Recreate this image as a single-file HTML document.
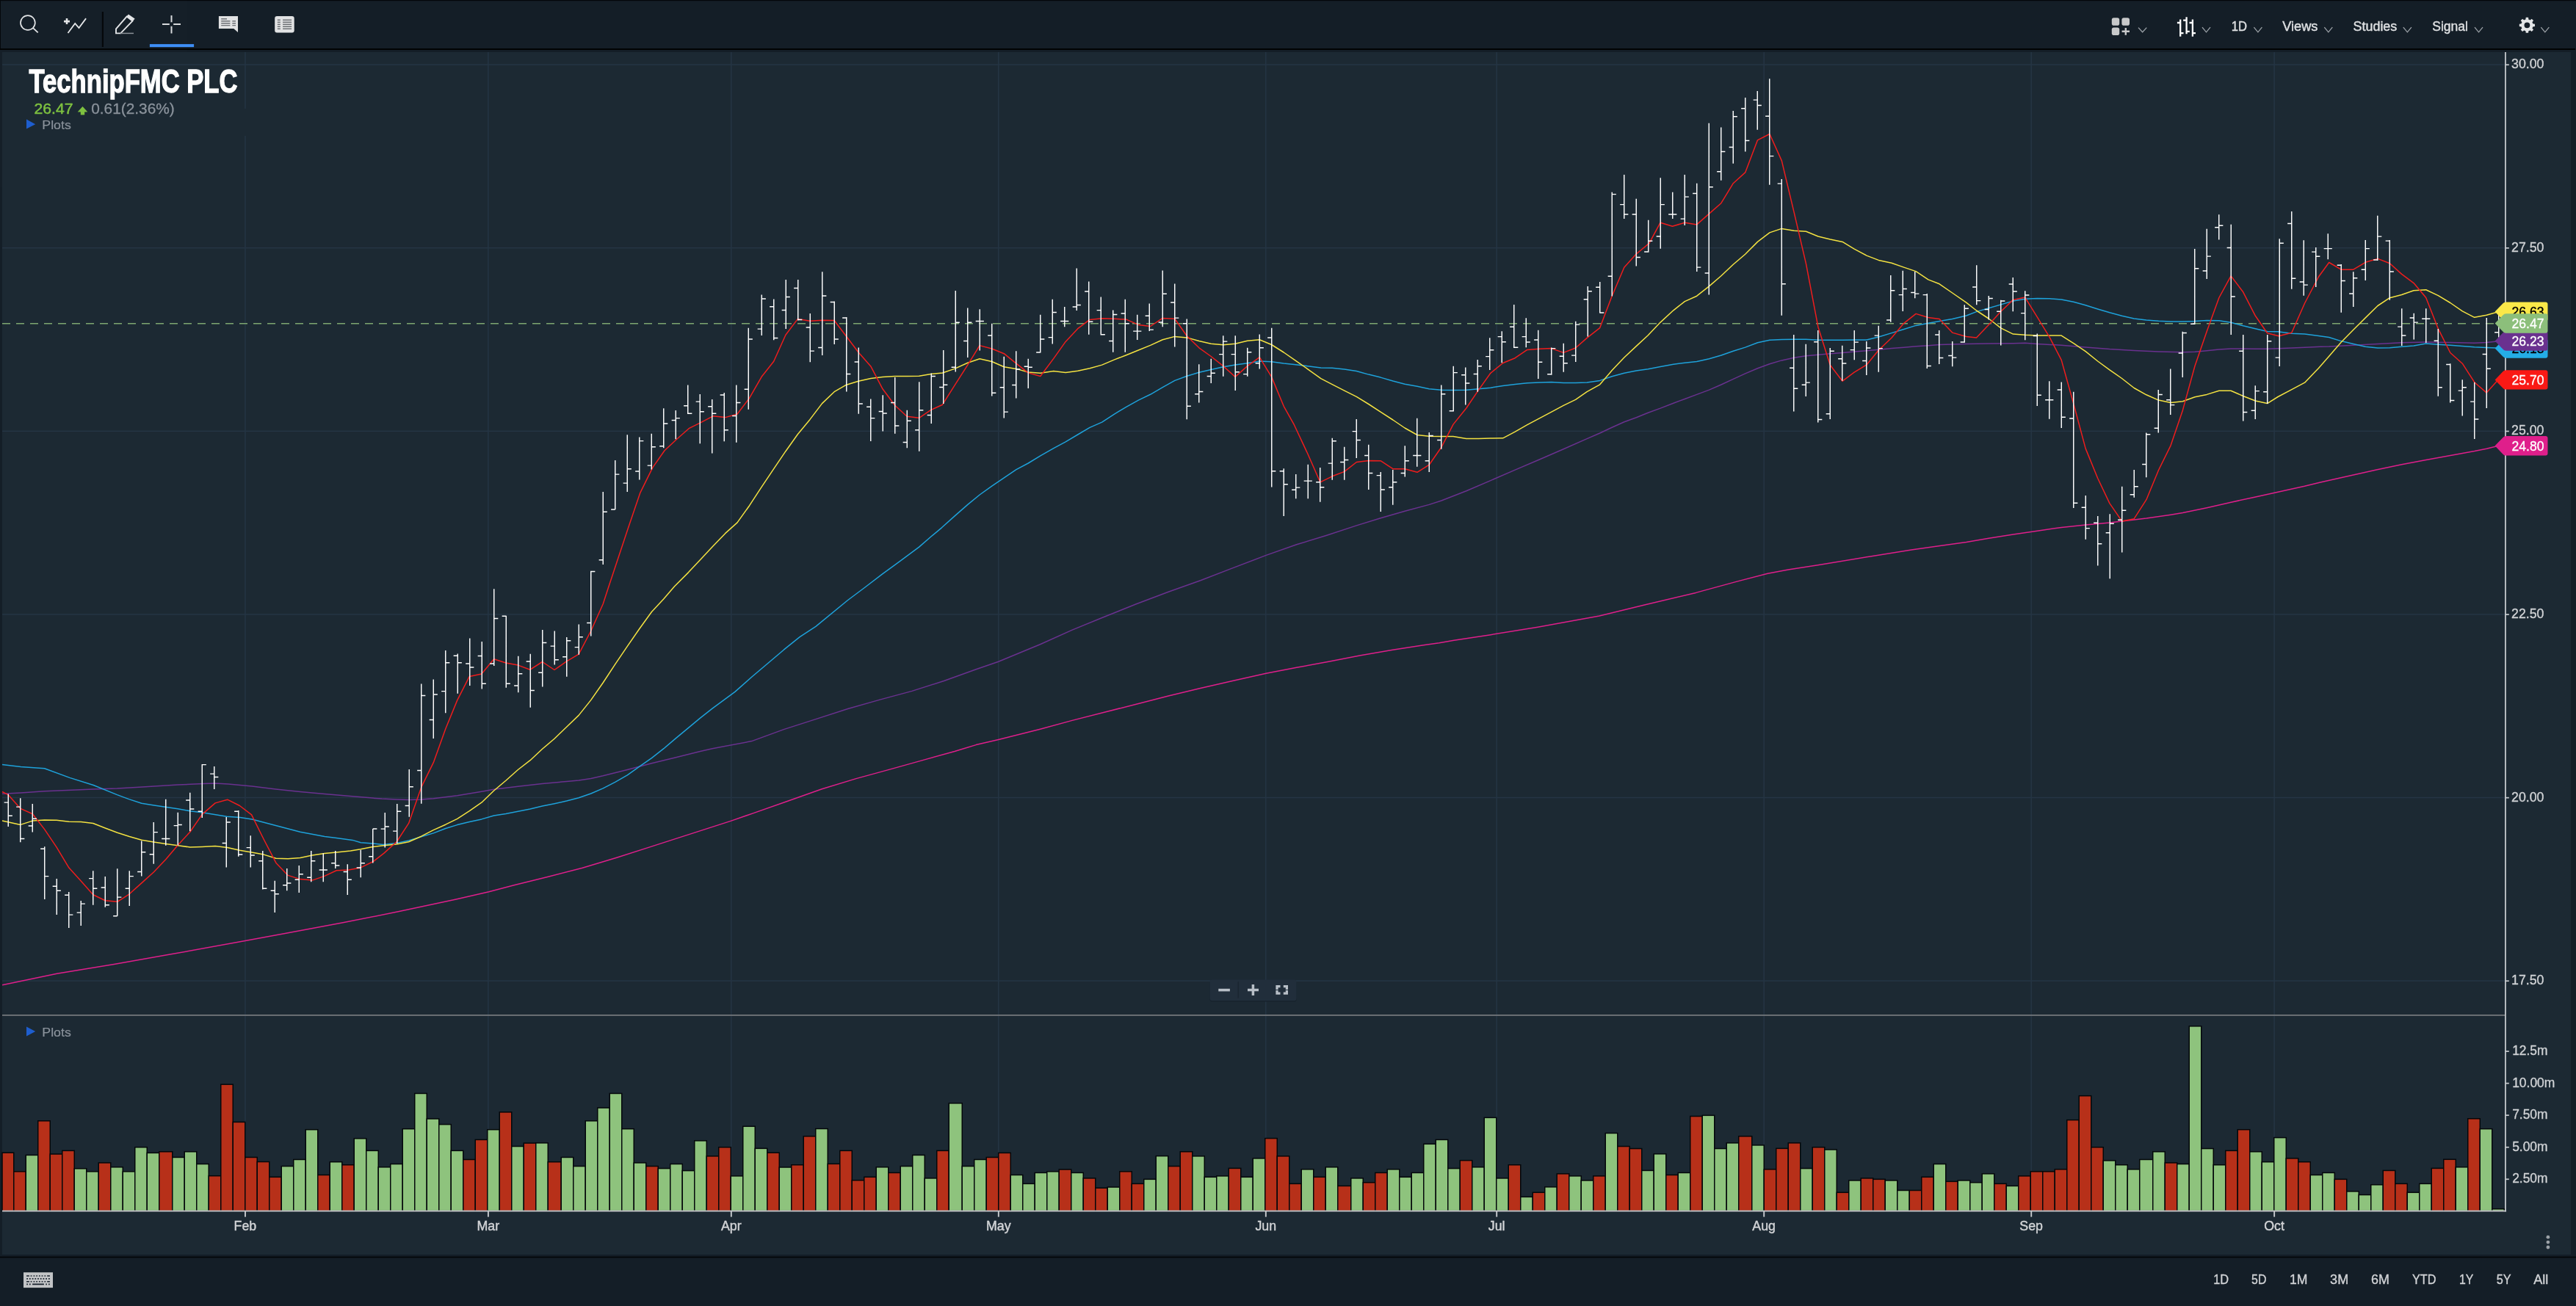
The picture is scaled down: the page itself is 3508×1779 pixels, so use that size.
<!DOCTYPE html>
<html lang="en"><head><meta charset="utf-8"><title>TechnipFMC PLC</title>
<style>
html,body{margin:0;padding:0;background:#151f28;}
body{width:3508px;height:1779px;overflow:hidden;font-family:"Liberation Sans",sans-serif;}
svg{display:block;position:absolute;left:0;top:0;will-change:transform;opacity:0.9999;}
text{white-space:pre;}
</style></head>
<body>
<svg width="3508" height="1779" viewBox="0 0 3508 1779">
<rect x="0" y="0" width="3508" height="1779" fill="#151f28"/>
<rect x="3" y="70.7" width="3498" height="1638.5" fill="#1d2a34"/>
<rect x="3" y="87.35" width="3409" height="1.5" fill="#263645"/>
<rect x="3" y="336.95" width="3409" height="1.5" fill="#263645"/>
<rect x="3" y="586.55" width="3409" height="1.5" fill="#263645"/>
<rect x="3" y="836.15" width="3409" height="1.5" fill="#263645"/>
<rect x="3" y="1085.75" width="3409" height="1.5" fill="#263645"/>
<rect x="3" y="1335.35" width="3409" height="1.5" fill="#263645"/>
<rect x="333.17" y="71" width="1.5" height="1579" fill="#263645"/>
<rect x="664.09" y="71" width="1.5" height="1579" fill="#263645"/>
<rect x="995.01" y="71" width="1.5" height="1579" fill="#263645"/>
<rect x="1359.02" y="71" width="1.5" height="1579" fill="#263645"/>
<rect x="1723.03" y="71" width="1.5" height="1579" fill="#263645"/>
<rect x="2037.41" y="71" width="1.5" height="1579" fill="#263645"/>
<rect x="2401.42" y="71" width="1.5" height="1579" fill="#263645"/>
<rect x="2765.43" y="71" width="1.5" height="1579" fill="#263645"/>
<rect x="3096.35" y="71" width="1.5" height="1579" fill="#263645"/>
<rect x="30" y="148" width="310" height="37" fill="#1d2a34"/>
<line x1="3" y1="440.70" x2="3400" y2="440.70" stroke="#7fa872" stroke-width="1.6" stroke-dasharray="11 8"/>
<rect x="3.00" y="1570.22" width="15.75" height="79.38" fill="#b8311a" stroke="#05080b" stroke-width="1.5"/>
<rect x="18.75" y="1595.85" width="16.50" height="53.75" fill="#b8311a" stroke="#05080b" stroke-width="1.5"/>
<rect x="35.25" y="1573.45" width="16.50" height="76.15" fill="#8fc47e" stroke="#05080b" stroke-width="1.5"/>
<rect x="51.75" y="1526.82" width="16.50" height="122.78" fill="#b8311a" stroke="#05080b" stroke-width="1.5"/>
<rect x="68.25" y="1572.03" width="16.50" height="77.57" fill="#b8311a" stroke="#05080b" stroke-width="1.5"/>
<rect x="84.75" y="1567.39" width="16.50" height="82.21" fill="#b8311a" stroke="#05080b" stroke-width="1.5"/>
<rect x="101.25" y="1591.82" width="16.50" height="57.78" fill="#8fc47e" stroke="#05080b" stroke-width="1.5"/>
<rect x="117.75" y="1595.85" width="16.50" height="53.75" fill="#8fc47e" stroke="#05080b" stroke-width="1.5"/>
<rect x="134.25" y="1583.94" width="16.50" height="65.66" fill="#b8311a" stroke="#05080b" stroke-width="1.5"/>
<rect x="150.75" y="1589.80" width="16.50" height="59.80" fill="#8fc47e" stroke="#05080b" stroke-width="1.5"/>
<rect x="167.25" y="1595.85" width="16.50" height="53.75" fill="#8fc47e" stroke="#05080b" stroke-width="1.5"/>
<rect x="183.75" y="1562.75" width="16.50" height="86.85" fill="#8fc47e" stroke="#05080b" stroke-width="1.5"/>
<rect x="200.25" y="1570.42" width="16.50" height="79.18" fill="#8fc47e" stroke="#05080b" stroke-width="1.5"/>
<rect x="216.75" y="1568.80" width="18.00" height="80.80" fill="#b8311a" stroke="#05080b" stroke-width="1.5"/>
<rect x="234.75" y="1576.48" width="16.50" height="73.12" fill="#8fc47e" stroke="#05080b" stroke-width="1.5"/>
<rect x="251.25" y="1568.80" width="16.50" height="80.80" fill="#8fc47e" stroke="#05080b" stroke-width="1.5"/>
<rect x="267.75" y="1585.56" width="16.50" height="64.04" fill="#8fc47e" stroke="#05080b" stroke-width="1.5"/>
<rect x="284.25" y="1601.71" width="16.50" height="47.89" fill="#b8311a" stroke="#05080b" stroke-width="1.5"/>
<rect x="300.75" y="1477.16" width="16.50" height="172.44" fill="#b8311a" stroke="#05080b" stroke-width="1.5"/>
<rect x="317.25" y="1528.43" width="16.50" height="121.17" fill="#b8311a" stroke="#05080b" stroke-width="1.5"/>
<rect x="333.75" y="1576.48" width="16.50" height="73.12" fill="#b8311a" stroke="#05080b" stroke-width="1.5"/>
<rect x="350.25" y="1582.53" width="16.50" height="67.07" fill="#b8311a" stroke="#05080b" stroke-width="1.5"/>
<rect x="366.75" y="1603.32" width="16.50" height="46.28" fill="#b8311a" stroke="#05080b" stroke-width="1.5"/>
<rect x="383.25" y="1588.59" width="16.50" height="61.01" fill="#8fc47e" stroke="#05080b" stroke-width="1.5"/>
<rect x="399.75" y="1579.50" width="16.50" height="70.10" fill="#8fc47e" stroke="#05080b" stroke-width="1.5"/>
<rect x="416.25" y="1538.73" width="16.50" height="110.87" fill="#8fc47e" stroke="#05080b" stroke-width="1.5"/>
<rect x="432.75" y="1600.50" width="16.50" height="49.10" fill="#b8311a" stroke="#05080b" stroke-width="1.5"/>
<rect x="449.25" y="1582.73" width="16.50" height="66.87" fill="#8fc47e" stroke="#05080b" stroke-width="1.5"/>
<rect x="465.75" y="1586.77" width="16.50" height="62.83" fill="#b8311a" stroke="#05080b" stroke-width="1.5"/>
<rect x="482.25" y="1550.84" width="16.50" height="98.76" fill="#8fc47e" stroke="#05080b" stroke-width="1.5"/>
<rect x="498.75" y="1567.39" width="16.50" height="82.21" fill="#8fc47e" stroke="#05080b" stroke-width="1.5"/>
<rect x="515.25" y="1589.80" width="16.50" height="59.80" fill="#8fc47e" stroke="#05080b" stroke-width="1.5"/>
<rect x="531.75" y="1585.56" width="16.50" height="64.04" fill="#8fc47e" stroke="#05080b" stroke-width="1.5"/>
<rect x="548.25" y="1537.72" width="16.50" height="111.88" fill="#8fc47e" stroke="#05080b" stroke-width="1.5"/>
<rect x="564.75" y="1489.47" width="16.50" height="160.13" fill="#8fc47e" stroke="#05080b" stroke-width="1.5"/>
<rect x="581.25" y="1523.99" width="16.50" height="125.61" fill="#8fc47e" stroke="#05080b" stroke-width="1.5"/>
<rect x="597.75" y="1531.66" width="16.50" height="117.94" fill="#8fc47e" stroke="#05080b" stroke-width="1.5"/>
<rect x="614.25" y="1567.39" width="16.50" height="82.21" fill="#8fc47e" stroke="#05080b" stroke-width="1.5"/>
<rect x="630.75" y="1579.50" width="16.50" height="70.10" fill="#b8311a" stroke="#05080b" stroke-width="1.5"/>
<rect x="647.25" y="1552.45" width="16.50" height="97.15" fill="#b8311a" stroke="#05080b" stroke-width="1.5"/>
<rect x="663.75" y="1538.73" width="16.50" height="110.87" fill="#8fc47e" stroke="#05080b" stroke-width="1.5"/>
<rect x="680.25" y="1514.91" width="16.50" height="134.69" fill="#b8311a" stroke="#05080b" stroke-width="1.5"/>
<rect x="696.75" y="1561.54" width="16.50" height="88.06" fill="#8fc47e" stroke="#05080b" stroke-width="1.5"/>
<rect x="713.25" y="1557.10" width="16.50" height="92.50" fill="#b8311a" stroke="#05080b" stroke-width="1.5"/>
<rect x="729.75" y="1556.89" width="16.50" height="92.71" fill="#8fc47e" stroke="#05080b" stroke-width="1.5"/>
<rect x="746.25" y="1582.73" width="18.00" height="66.87" fill="#b8311a" stroke="#05080b" stroke-width="1.5"/>
<rect x="764.25" y="1576.48" width="16.50" height="73.12" fill="#8fc47e" stroke="#05080b" stroke-width="1.5"/>
<rect x="780.75" y="1588.59" width="16.50" height="61.01" fill="#8fc47e" stroke="#05080b" stroke-width="1.5"/>
<rect x="797.25" y="1526.82" width="16.50" height="122.78" fill="#8fc47e" stroke="#05080b" stroke-width="1.5"/>
<rect x="813.75" y="1509.05" width="16.50" height="140.55" fill="#8fc47e" stroke="#05080b" stroke-width="1.5"/>
<rect x="830.25" y="1489.47" width="16.50" height="160.13" fill="#8fc47e" stroke="#05080b" stroke-width="1.5"/>
<rect x="846.75" y="1537.72" width="16.50" height="111.88" fill="#8fc47e" stroke="#05080b" stroke-width="1.5"/>
<rect x="863.25" y="1583.94" width="16.50" height="65.66" fill="#8fc47e" stroke="#05080b" stroke-width="1.5"/>
<rect x="879.75" y="1588.59" width="16.50" height="61.01" fill="#b8311a" stroke="#05080b" stroke-width="1.5"/>
<rect x="896.25" y="1591.61" width="16.50" height="57.99" fill="#8fc47e" stroke="#05080b" stroke-width="1.5"/>
<rect x="912.75" y="1585.56" width="16.50" height="64.04" fill="#8fc47e" stroke="#05080b" stroke-width="1.5"/>
<rect x="929.25" y="1594.64" width="16.50" height="54.96" fill="#8fc47e" stroke="#05080b" stroke-width="1.5"/>
<rect x="945.75" y="1553.87" width="16.50" height="95.73" fill="#8fc47e" stroke="#05080b" stroke-width="1.5"/>
<rect x="962.25" y="1574.86" width="16.50" height="74.74" fill="#b8311a" stroke="#05080b" stroke-width="1.5"/>
<rect x="978.75" y="1562.75" width="16.50" height="86.85" fill="#b8311a" stroke="#05080b" stroke-width="1.5"/>
<rect x="995.25" y="1601.91" width="16.50" height="47.69" fill="#8fc47e" stroke="#05080b" stroke-width="1.5"/>
<rect x="1011.75" y="1534.29" width="16.50" height="115.31" fill="#8fc47e" stroke="#05080b" stroke-width="1.5"/>
<rect x="1028.25" y="1564.36" width="16.50" height="85.24" fill="#8fc47e" stroke="#05080b" stroke-width="1.5"/>
<rect x="1044.75" y="1570.22" width="16.50" height="79.38" fill="#b8311a" stroke="#05080b" stroke-width="1.5"/>
<rect x="1061.25" y="1590.00" width="16.50" height="59.60" fill="#8fc47e" stroke="#05080b" stroke-width="1.5"/>
<rect x="1077.75" y="1586.77" width="16.50" height="62.83" fill="#b8311a" stroke="#05080b" stroke-width="1.5"/>
<rect x="1094.25" y="1547.81" width="16.50" height="101.79" fill="#b8311a" stroke="#05080b" stroke-width="1.5"/>
<rect x="1110.75" y="1537.52" width="16.50" height="112.08" fill="#8fc47e" stroke="#05080b" stroke-width="1.5"/>
<rect x="1127.25" y="1585.36" width="16.50" height="64.24" fill="#b8311a" stroke="#05080b" stroke-width="1.5"/>
<rect x="1143.75" y="1567.39" width="16.50" height="82.21" fill="#b8311a" stroke="#05080b" stroke-width="1.5"/>
<rect x="1160.25" y="1607.76" width="16.50" height="41.84" fill="#b8311a" stroke="#05080b" stroke-width="1.5"/>
<rect x="1176.75" y="1603.32" width="16.50" height="46.28" fill="#b8311a" stroke="#05080b" stroke-width="1.5"/>
<rect x="1193.25" y="1589.80" width="16.50" height="59.80" fill="#8fc47e" stroke="#05080b" stroke-width="1.5"/>
<rect x="1209.75" y="1597.47" width="16.50" height="52.13" fill="#b8311a" stroke="#05080b" stroke-width="1.5"/>
<rect x="1226.25" y="1588.59" width="16.50" height="61.01" fill="#8fc47e" stroke="#05080b" stroke-width="1.5"/>
<rect x="1242.75" y="1573.45" width="16.50" height="76.15" fill="#8fc47e" stroke="#05080b" stroke-width="1.5"/>
<rect x="1259.25" y="1604.94" width="16.50" height="44.66" fill="#8fc47e" stroke="#05080b" stroke-width="1.5"/>
<rect x="1275.75" y="1567.39" width="16.50" height="82.21" fill="#b8311a" stroke="#05080b" stroke-width="1.5"/>
<rect x="1292.25" y="1502.80" width="18.00" height="146.80" fill="#8fc47e" stroke="#05080b" stroke-width="1.5"/>
<rect x="1310.25" y="1588.59" width="16.50" height="61.01" fill="#8fc47e" stroke="#05080b" stroke-width="1.5"/>
<rect x="1326.75" y="1579.50" width="16.50" height="70.10" fill="#8fc47e" stroke="#05080b" stroke-width="1.5"/>
<rect x="1343.25" y="1576.48" width="16.50" height="73.12" fill="#b8311a" stroke="#05080b" stroke-width="1.5"/>
<rect x="1359.75" y="1570.42" width="16.50" height="79.18" fill="#b8311a" stroke="#05080b" stroke-width="1.5"/>
<rect x="1376.25" y="1600.50" width="16.50" height="49.10" fill="#8fc47e" stroke="#05080b" stroke-width="1.5"/>
<rect x="1392.75" y="1612.41" width="16.50" height="37.19" fill="#8fc47e" stroke="#05080b" stroke-width="1.5"/>
<rect x="1409.25" y="1597.47" width="16.50" height="52.13" fill="#8fc47e" stroke="#05080b" stroke-width="1.5"/>
<rect x="1425.75" y="1595.85" width="16.50" height="53.75" fill="#8fc47e" stroke="#05080b" stroke-width="1.5"/>
<rect x="1442.25" y="1593.03" width="16.50" height="56.57" fill="#b8311a" stroke="#05080b" stroke-width="1.5"/>
<rect x="1458.75" y="1597.47" width="16.50" height="52.13" fill="#8fc47e" stroke="#05080b" stroke-width="1.5"/>
<rect x="1475.25" y="1604.94" width="16.50" height="44.66" fill="#b8311a" stroke="#05080b" stroke-width="1.5"/>
<rect x="1491.75" y="1618.26" width="16.50" height="31.34" fill="#b8311a" stroke="#05080b" stroke-width="1.5"/>
<rect x="1508.25" y="1617.05" width="16.50" height="32.55" fill="#8fc47e" stroke="#05080b" stroke-width="1.5"/>
<rect x="1524.75" y="1595.85" width="16.50" height="53.75" fill="#b8311a" stroke="#05080b" stroke-width="1.5"/>
<rect x="1541.25" y="1612.41" width="16.50" height="37.19" fill="#b8311a" stroke="#05080b" stroke-width="1.5"/>
<rect x="1557.75" y="1606.35" width="16.50" height="43.25" fill="#8fc47e" stroke="#05080b" stroke-width="1.5"/>
<rect x="1574.25" y="1574.66" width="16.50" height="74.94" fill="#8fc47e" stroke="#05080b" stroke-width="1.5"/>
<rect x="1590.75" y="1588.59" width="16.50" height="61.01" fill="#b8311a" stroke="#05080b" stroke-width="1.5"/>
<rect x="1607.25" y="1568.80" width="16.50" height="80.80" fill="#b8311a" stroke="#05080b" stroke-width="1.5"/>
<rect x="1623.75" y="1574.86" width="16.50" height="74.74" fill="#8fc47e" stroke="#05080b" stroke-width="1.5"/>
<rect x="1640.25" y="1603.32" width="16.50" height="46.28" fill="#8fc47e" stroke="#05080b" stroke-width="1.5"/>
<rect x="1656.75" y="1601.91" width="16.50" height="47.69" fill="#8fc47e" stroke="#05080b" stroke-width="1.5"/>
<rect x="1673.25" y="1591.41" width="16.50" height="58.19" fill="#b8311a" stroke="#05080b" stroke-width="1.5"/>
<rect x="1689.75" y="1603.32" width="16.50" height="46.28" fill="#8fc47e" stroke="#05080b" stroke-width="1.5"/>
<rect x="1706.25" y="1577.89" width="16.50" height="71.71" fill="#8fc47e" stroke="#05080b" stroke-width="1.5"/>
<rect x="1722.75" y="1550.64" width="16.50" height="98.96" fill="#b8311a" stroke="#05080b" stroke-width="1.5"/>
<rect x="1739.25" y="1574.86" width="16.50" height="74.74" fill="#b8311a" stroke="#05080b" stroke-width="1.5"/>
<rect x="1755.75" y="1612.41" width="16.50" height="37.19" fill="#b8311a" stroke="#05080b" stroke-width="1.5"/>
<rect x="1772.25" y="1592.83" width="16.50" height="56.77" fill="#8fc47e" stroke="#05080b" stroke-width="1.5"/>
<rect x="1788.75" y="1603.32" width="16.50" height="46.28" fill="#b8311a" stroke="#05080b" stroke-width="1.5"/>
<rect x="1805.25" y="1589.80" width="16.50" height="59.80" fill="#8fc47e" stroke="#05080b" stroke-width="1.5"/>
<rect x="1821.75" y="1615.43" width="18.00" height="34.17" fill="#b8311a" stroke="#05080b" stroke-width="1.5"/>
<rect x="1839.75" y="1604.94" width="16.50" height="44.66" fill="#8fc47e" stroke="#05080b" stroke-width="1.5"/>
<rect x="1856.25" y="1610.79" width="16.50" height="38.81" fill="#b8311a" stroke="#05080b" stroke-width="1.5"/>
<rect x="1872.75" y="1597.47" width="16.50" height="52.13" fill="#b8311a" stroke="#05080b" stroke-width="1.5"/>
<rect x="1889.25" y="1592.83" width="16.50" height="56.77" fill="#8fc47e" stroke="#05080b" stroke-width="1.5"/>
<rect x="1905.75" y="1603.32" width="16.50" height="46.28" fill="#8fc47e" stroke="#05080b" stroke-width="1.5"/>
<rect x="1922.25" y="1597.47" width="16.50" height="52.13" fill="#8fc47e" stroke="#05080b" stroke-width="1.5"/>
<rect x="1938.75" y="1558.31" width="16.50" height="91.29" fill="#8fc47e" stroke="#05080b" stroke-width="1.5"/>
<rect x="1955.25" y="1552.45" width="16.50" height="97.15" fill="#8fc47e" stroke="#05080b" stroke-width="1.5"/>
<rect x="1971.75" y="1591.61" width="16.50" height="57.99" fill="#8fc47e" stroke="#05080b" stroke-width="1.5"/>
<rect x="1988.25" y="1580.71" width="16.50" height="68.89" fill="#b8311a" stroke="#05080b" stroke-width="1.5"/>
<rect x="2004.75" y="1589.80" width="16.50" height="59.80" fill="#8fc47e" stroke="#05080b" stroke-width="1.5"/>
<rect x="2021.25" y="1522.38" width="16.50" height="127.22" fill="#8fc47e" stroke="#05080b" stroke-width="1.5"/>
<rect x="2037.75" y="1604.94" width="16.50" height="44.66" fill="#8fc47e" stroke="#05080b" stroke-width="1.5"/>
<rect x="2054.25" y="1586.77" width="16.50" height="62.83" fill="#b8311a" stroke="#05080b" stroke-width="1.5"/>
<rect x="2070.75" y="1630.37" width="16.50" height="19.23" fill="#8fc47e" stroke="#05080b" stroke-width="1.5"/>
<rect x="2087.25" y="1624.32" width="16.50" height="25.28" fill="#b8311a" stroke="#05080b" stroke-width="1.5"/>
<rect x="2103.75" y="1616.85" width="16.50" height="32.75" fill="#8fc47e" stroke="#05080b" stroke-width="1.5"/>
<rect x="2120.25" y="1598.88" width="16.50" height="50.72" fill="#b8311a" stroke="#05080b" stroke-width="1.5"/>
<rect x="2136.75" y="1601.91" width="16.50" height="47.69" fill="#8fc47e" stroke="#05080b" stroke-width="1.5"/>
<rect x="2153.25" y="1607.97" width="16.50" height="41.63" fill="#8fc47e" stroke="#05080b" stroke-width="1.5"/>
<rect x="2169.75" y="1601.91" width="16.50" height="47.69" fill="#b8311a" stroke="#05080b" stroke-width="1.5"/>
<rect x="2186.25" y="1543.57" width="16.50" height="106.03" fill="#8fc47e" stroke="#05080b" stroke-width="1.5"/>
<rect x="2202.75" y="1561.54" width="16.50" height="88.06" fill="#b8311a" stroke="#05080b" stroke-width="1.5"/>
<rect x="2219.25" y="1564.57" width="16.50" height="85.03" fill="#b8311a" stroke="#05080b" stroke-width="1.5"/>
<rect x="2235.75" y="1594.44" width="16.50" height="55.16" fill="#8fc47e" stroke="#05080b" stroke-width="1.5"/>
<rect x="2252.25" y="1571.83" width="16.50" height="77.77" fill="#8fc47e" stroke="#05080b" stroke-width="1.5"/>
<rect x="2268.75" y="1600.50" width="16.50" height="49.10" fill="#b8311a" stroke="#05080b" stroke-width="1.5"/>
<rect x="2285.25" y="1597.47" width="16.50" height="52.13" fill="#8fc47e" stroke="#05080b" stroke-width="1.5"/>
<rect x="2301.75" y="1520.56" width="16.50" height="129.04" fill="#b8311a" stroke="#05080b" stroke-width="1.5"/>
<rect x="2318.25" y="1519.35" width="16.50" height="130.25" fill="#8fc47e" stroke="#05080b" stroke-width="1.5"/>
<rect x="2334.75" y="1564.57" width="16.50" height="85.03" fill="#8fc47e" stroke="#05080b" stroke-width="1.5"/>
<rect x="2351.25" y="1556.89" width="16.50" height="92.71" fill="#8fc47e" stroke="#05080b" stroke-width="1.5"/>
<rect x="2367.75" y="1547.81" width="18.00" height="101.79" fill="#b8311a" stroke="#05080b" stroke-width="1.5"/>
<rect x="2385.75" y="1559.92" width="16.50" height="89.68" fill="#8fc47e" stroke="#05080b" stroke-width="1.5"/>
<rect x="2402.25" y="1592.83" width="16.50" height="56.77" fill="#b8311a" stroke="#05080b" stroke-width="1.5"/>
<rect x="2418.75" y="1564.36" width="16.50" height="85.24" fill="#b8311a" stroke="#05080b" stroke-width="1.5"/>
<rect x="2435.25" y="1556.89" width="16.50" height="92.71" fill="#b8311a" stroke="#05080b" stroke-width="1.5"/>
<rect x="2451.75" y="1591.61" width="16.50" height="57.99" fill="#8fc47e" stroke="#05080b" stroke-width="1.5"/>
<rect x="2468.25" y="1562.75" width="16.50" height="86.85" fill="#b8311a" stroke="#05080b" stroke-width="1.5"/>
<rect x="2484.75" y="1565.98" width="16.50" height="83.62" fill="#8fc47e" stroke="#05080b" stroke-width="1.5"/>
<rect x="2501.25" y="1624.32" width="16.50" height="25.28" fill="#b8311a" stroke="#05080b" stroke-width="1.5"/>
<rect x="2517.75" y="1607.97" width="16.50" height="41.63" fill="#8fc47e" stroke="#05080b" stroke-width="1.5"/>
<rect x="2534.25" y="1604.94" width="16.50" height="44.66" fill="#b8311a" stroke="#05080b" stroke-width="1.5"/>
<rect x="2550.75" y="1606.35" width="16.50" height="43.25" fill="#b8311a" stroke="#05080b" stroke-width="1.5"/>
<rect x="2567.25" y="1607.97" width="16.50" height="41.63" fill="#8fc47e" stroke="#05080b" stroke-width="1.5"/>
<rect x="2583.75" y="1621.49" width="16.50" height="28.11" fill="#8fc47e" stroke="#05080b" stroke-width="1.5"/>
<rect x="2600.25" y="1621.49" width="16.50" height="28.11" fill="#b8311a" stroke="#05080b" stroke-width="1.5"/>
<rect x="2616.75" y="1603.32" width="16.50" height="46.28" fill="#b8311a" stroke="#05080b" stroke-width="1.5"/>
<rect x="2633.25" y="1585.56" width="16.50" height="64.04" fill="#8fc47e" stroke="#05080b" stroke-width="1.5"/>
<rect x="2649.75" y="1609.38" width="16.50" height="40.22" fill="#b8311a" stroke="#05080b" stroke-width="1.5"/>
<rect x="2666.25" y="1607.97" width="16.50" height="41.63" fill="#8fc47e" stroke="#05080b" stroke-width="1.5"/>
<rect x="2682.75" y="1610.79" width="16.50" height="38.81" fill="#8fc47e" stroke="#05080b" stroke-width="1.5"/>
<rect x="2699.25" y="1598.88" width="16.50" height="50.72" fill="#8fc47e" stroke="#05080b" stroke-width="1.5"/>
<rect x="2715.75" y="1612.41" width="16.50" height="37.19" fill="#b8311a" stroke="#05080b" stroke-width="1.5"/>
<rect x="2732.25" y="1615.43" width="16.50" height="34.17" fill="#8fc47e" stroke="#05080b" stroke-width="1.5"/>
<rect x="2748.75" y="1601.91" width="16.50" height="47.69" fill="#b8311a" stroke="#05080b" stroke-width="1.5"/>
<rect x="2765.25" y="1595.85" width="16.50" height="53.75" fill="#b8311a" stroke="#05080b" stroke-width="1.5"/>
<rect x="2781.75" y="1595.85" width="16.50" height="53.75" fill="#b8311a" stroke="#05080b" stroke-width="1.5"/>
<rect x="2798.25" y="1592.83" width="16.50" height="56.77" fill="#b8311a" stroke="#05080b" stroke-width="1.5"/>
<rect x="2814.75" y="1525.61" width="16.50" height="123.99" fill="#b8311a" stroke="#05080b" stroke-width="1.5"/>
<rect x="2831.25" y="1492.70" width="16.50" height="156.90" fill="#b8311a" stroke="#05080b" stroke-width="1.5"/>
<rect x="2847.75" y="1562.75" width="16.50" height="86.85" fill="#b8311a" stroke="#05080b" stroke-width="1.5"/>
<rect x="2864.25" y="1580.92" width="16.50" height="68.68" fill="#8fc47e" stroke="#05080b" stroke-width="1.5"/>
<rect x="2880.75" y="1586.77" width="16.50" height="62.83" fill="#8fc47e" stroke="#05080b" stroke-width="1.5"/>
<rect x="2897.25" y="1592.83" width="16.50" height="56.77" fill="#8fc47e" stroke="#05080b" stroke-width="1.5"/>
<rect x="2913.75" y="1579.50" width="18.00" height="70.10" fill="#8fc47e" stroke="#05080b" stroke-width="1.5"/>
<rect x="2931.75" y="1568.80" width="16.50" height="80.80" fill="#8fc47e" stroke="#05080b" stroke-width="1.5"/>
<rect x="2948.25" y="1583.94" width="16.50" height="65.66" fill="#b8311a" stroke="#05080b" stroke-width="1.5"/>
<rect x="2964.75" y="1585.56" width="16.50" height="64.04" fill="#8fc47e" stroke="#05080b" stroke-width="1.5"/>
<rect x="2981.25" y="1397.83" width="16.50" height="251.77" fill="#8fc47e" stroke="#05080b" stroke-width="1.5"/>
<rect x="2997.75" y="1564.57" width="16.50" height="85.03" fill="#8fc47e" stroke="#05080b" stroke-width="1.5"/>
<rect x="3014.25" y="1586.77" width="16.50" height="62.83" fill="#8fc47e" stroke="#05080b" stroke-width="1.5"/>
<rect x="3030.75" y="1567.39" width="16.50" height="82.21" fill="#b8311a" stroke="#05080b" stroke-width="1.5"/>
<rect x="3047.25" y="1538.73" width="16.50" height="110.87" fill="#b8311a" stroke="#05080b" stroke-width="1.5"/>
<rect x="3063.75" y="1568.80" width="16.50" height="80.80" fill="#8fc47e" stroke="#05080b" stroke-width="1.5"/>
<rect x="3080.25" y="1582.73" width="16.50" height="66.87" fill="#8fc47e" stroke="#05080b" stroke-width="1.5"/>
<rect x="3096.75" y="1549.63" width="16.50" height="99.97" fill="#8fc47e" stroke="#05080b" stroke-width="1.5"/>
<rect x="3113.25" y="1577.89" width="16.50" height="71.71" fill="#b8311a" stroke="#05080b" stroke-width="1.5"/>
<rect x="3129.75" y="1582.73" width="16.50" height="66.87" fill="#b8311a" stroke="#05080b" stroke-width="1.5"/>
<rect x="3146.25" y="1600.50" width="16.50" height="49.10" fill="#8fc47e" stroke="#05080b" stroke-width="1.5"/>
<rect x="3162.75" y="1597.47" width="16.50" height="52.13" fill="#8fc47e" stroke="#05080b" stroke-width="1.5"/>
<rect x="3179.25" y="1606.35" width="16.50" height="43.25" fill="#b8311a" stroke="#05080b" stroke-width="1.5"/>
<rect x="3195.75" y="1622.90" width="16.50" height="26.70" fill="#8fc47e" stroke="#05080b" stroke-width="1.5"/>
<rect x="3212.25" y="1627.55" width="16.50" height="22.05" fill="#8fc47e" stroke="#05080b" stroke-width="1.5"/>
<rect x="3228.75" y="1613.82" width="16.50" height="35.78" fill="#8fc47e" stroke="#05080b" stroke-width="1.5"/>
<rect x="3245.25" y="1594.44" width="16.50" height="55.16" fill="#b8311a" stroke="#05080b" stroke-width="1.5"/>
<rect x="3261.75" y="1612.41" width="16.50" height="37.19" fill="#b8311a" stroke="#05080b" stroke-width="1.5"/>
<rect x="3278.25" y="1624.32" width="16.50" height="25.28" fill="#8fc47e" stroke="#05080b" stroke-width="1.5"/>
<rect x="3294.75" y="1612.41" width="16.50" height="37.19" fill="#8fc47e" stroke="#05080b" stroke-width="1.5"/>
<rect x="3311.25" y="1591.41" width="16.50" height="58.19" fill="#b8311a" stroke="#05080b" stroke-width="1.5"/>
<rect x="3327.75" y="1579.30" width="16.50" height="70.30" fill="#b8311a" stroke="#05080b" stroke-width="1.5"/>
<rect x="3344.25" y="1589.80" width="16.50" height="59.80" fill="#8fc47e" stroke="#05080b" stroke-width="1.5"/>
<rect x="3360.75" y="1523.79" width="16.50" height="125.81" fill="#b8311a" stroke="#05080b" stroke-width="1.5"/>
<rect x="3377.25" y="1537.72" width="16.50" height="111.88" fill="#8fc47e" stroke="#05080b" stroke-width="1.5"/>
<rect x="3393.75" y="1646.72" width="16.50" height="2.88" fill="#8fc47e" stroke="#05080b" stroke-width="1.5"/>
<path d="M3.1,1341.8 L77.6,1326.2 L155.3,1313.4 L232.9,1299.8 L333.9,1281.6 L388.2,1271.5 L465.8,1257.1 L543.5,1241.6 L621.1,1224.9 L665.8,1214.8 L700.0,1205.8 L746.6,1194.2 L793.2,1182.2 L839.8,1168.2 L886.3,1153.4 L932.9,1138.4 L995.8,1118.1 L1026.1,1107.6 L1072.7,1091.2 L1119.3,1074.8 L1165.8,1060.6 L1212.4,1047.9 L1259.0,1034.9 L1300.0,1023.5 L1329.2,1014.6 L1359.7,1007.5 L1416.5,993.2 L1460.1,981.4 L1503.8,970.3 L1547.4,959.2 L1591.1,947.9 L1634.7,937.6 L1678.4,927.5 L1724.2,917.3 L1765.7,909.3 L1809.3,901.2 L1853.0,892.8 L1896.6,885.3 L1940.3,878.6 L1960.0,875.7 L1980.0,872.3 L2029.9,864.7 L2094.2,854.3 L2178.0,838.9 L2239.5,824.1 L2309.4,807.4 L2365.3,792.1 L2407.2,781.3 L2435.2,776.0 L2477.1,769.6 L2547.0,757.9 L2602.9,748.9 L2640.0,743.7 L2677.7,738.5 L2708.2,733.2 L2741.5,727.9 L2774.3,723.2 L2807.2,718.4 L2840.1,715.1 L2872.9,712.1 L2889.6,710.0 L2922.9,706.0 L2956.1,701.2 L2972.4,698.6 L3005.2,691.7 L3038.1,684.2 L3071.4,677.0 L3104.3,669.7 L3138.3,662.2 L3159.9,656.9 L3236.0,640.0 L3270.6,632.8 L3303.7,626.5 L3336.8,620.6 L3369.7,614.6 L3386.1,611.2 L3400.3,607.8" fill="none" stroke="#e0208c" stroke-width="1.5" stroke-linejoin="round"/>
<path d="M3.0,1081.2 L28.3,1079.9 L60.6,1077.7 L127.2,1074.9 L159.5,1073.9 L193.8,1071.9 L242.2,1069.1 L276.6,1067.4 L292.7,1067.0 L310.9,1068.1 L343.2,1070.9 L375.5,1074.9 L408.8,1078.5 L442.1,1081.6 L477.2,1084.5 L507.6,1087.1 L520.0,1088.1 L540.3,1089.1 L556.6,1089.6 L573.7,1089.1 L590.3,1087.7 L622.7,1083.8 L655.8,1078.3 L672.6,1075.2 L705.4,1071.2 L738.5,1067.6 L771.6,1064.4 L788.1,1062.9 L804.7,1060.5 L821.2,1056.8 L854.3,1048.6 L887.4,1039.7 L920.4,1031.8 L953.5,1023.5 L970.0,1019.7 L1023.6,1009.6 L1067.3,993.6 L1110.9,979.6 L1154.6,965.5 L1198.2,953.1 L1241.9,941.4 L1285.5,927.5 L1329.2,911.7 L1359.7,901.3 L1416.5,877.8 L1460.1,858.1 L1503.8,840.2 L1547.4,822.8 L1591.1,806.2 L1634.7,790.8 L1678.4,773.9 L1724.2,756.4 L1765.7,741.8 L1805.9,729.5 L1847.3,715.9 L1880.1,705.8 L1913.1,696.3 L1946.2,687.4 L1962.8,682.0 L1996.8,668.8 L2029.8,654.6 L2063.2,640.1 L2096.3,626.0 L2129.1,611.7 L2161.1,597.6 L2178.7,590.0 L2195.1,582.3 L2211.8,574.8 L2228.3,568.7 L2244.3,562.2 L2261.1,556.1 L2278.8,549.2 L2294.3,543.5 L2310.7,537.4 L2327.5,531.1 L2343.9,524.0 L2360.3,516.4 L2376.7,508.9 L2393.5,501.7 L2409.9,495.7 L2426.3,490.9 L2443.1,487.3 L2459.5,484.8 L2475.9,483.3 L2492.3,481.7 L2509.1,480.5 L2525.1,479.0 L2541.9,477.7 L2558.3,476.2 L2575.9,474.6 L2592.7,473.2 L2609.1,471.7 L2625.9,470.7 L2641.1,469.6 L2658.7,468.9 L2677.7,468.5 L2708.2,468.0 L2741.5,467.7 L2757.7,467.2 L2774.3,468.4 L2807.2,470.3 L2840.1,472.9 L2872.9,475.6 L2906.2,477.6 L2939.5,479.0 L2972.4,479.7 L2989.0,479.2 L3005.2,477.7 L3021.9,476.1 L3038.1,475.1 L3054.7,474.9 L3071.4,475.2 L3087.6,475.3 L3102.1,474.7 L3120.9,474.1 L3138.6,473.3 L3159.9,472.2 L3171.7,471.9 L3204.8,470.2 L3238.0,468.4 L3270.6,466.7 L3303.7,465.9 L3336.8,466.6 L3369.7,467.2 L3386.1,466.5 L3400.3,465.0" fill="none" stroke="#6b3290" stroke-width="1.5" stroke-linejoin="round"/>
<path d="M3.0,1041.6 L28.3,1044.6 L60.6,1046.8 L94.9,1059.4 L127.2,1069.5 L159.5,1082.6 L175.6,1088.6 L192.8,1094.3 L209.9,1096.9 L242.2,1101.8 L260.4,1105.0 L275.3,1106.8 L308.9,1112.3 L327.0,1113.5 L343.2,1116.1 L375.5,1124.4 L408.8,1133.2 L442.1,1139.5 L458.2,1141.5 L480.0,1144.4 L491.3,1147.8 L507.6,1149.0 L521.7,1150.4 L540.3,1148.4 L556.6,1145.0 L573.7,1139.8 L590.3,1134.9 L606.8,1128.5 L622.7,1123.6 L639.3,1119.6 L655.8,1115.9 L672.6,1111.0 L688.9,1108.5 L705.4,1105.2 L722.0,1102.1 L738.5,1098.1 L755.0,1094.8 L771.6,1091.1 L788.1,1086.8 L804.7,1081.0 L821.2,1073.9 L837.7,1065.4 L854.3,1055.9 L870.8,1044.2 L887.4,1032.6 L903.9,1019.7 L920.4,1005.6 L937.0,991.9 L953.5,978.1 L970.0,965.2 L1000.9,942.4 L1023.6,922.3 L1067.3,885.2 L1089.1,867.7 L1110.9,853.3 L1154.6,817.5 L1178.0,800.0 L1202.0,781.7 L1218.5,769.7 L1235.1,757.4 L1251.6,745.1 L1267.8,731.0 L1282.4,718.8 L1300.4,702.6 L1317.8,687.4 L1334.1,674.0 L1350.7,662.1 L1367.3,650.8 L1383.9,639.7 L1400.2,631.0 L1416.8,620.8 L1434.8,610.6 L1451.1,601.9 L1467.7,592.0 L1484.0,582.4 L1500.6,575.1 L1517.1,564.3 L1533.7,554.4 L1550.3,545.1 L1566.6,537.3 L1583.2,527.7 L1599.8,518.4 L1616.4,512.3 L1632.9,507.3 L1649.2,503.5 L1665.8,499.7 L1682.1,497.1 L1698.7,494.8 L1715.3,491.9 L1731.6,492.8 L1748.2,495.1 L1762.4,496.6 L1780.9,498.7 L1798.8,500.9 L1814.2,501.2 L1830.8,503.0 L1847.3,505.5 L1863.8,510.1 L1880.1,514.1 L1896.9,519.0 L1913.1,523.3 L1930.0,526.3 L1946.2,529.7 L1962.8,531.2 L1979.0,531.5 L1996.8,531.2 L2013.6,529.7 L2029.8,528.2 L2046.7,525.4 L2063.2,523.6 L2079.8,521.7 L2096.3,521.1 L2112.8,520.5 L2129.1,521.4 L2145.6,521.4 L2161.1,521.0 L2178.7,518.4 L2195.2,512.7 L2211.8,508.2 L2228.2,505.1 L2244.3,502.8 L2261.1,499.5 L2278.8,496.3 L2294.3,494.2 L2310.7,492.6 L2327.5,488.7 L2343.9,484.0 L2360.3,478.2 L2376.7,473.1 L2393.5,466.8 L2409.9,463.3 L2426.3,462.5 L2443.1,462.2 L2459.5,462.2 L2475.9,463.3 L2492.3,463.3 L2509.1,463.3 L2525.1,462.9 L2541.9,462.9 L2558.3,459.0 L2575.9,453.6 L2592.7,448.5 L2609.1,443.4 L2625.9,440.3 L2641.1,437.6 L2658.7,434.4 L2677.7,430.0 L2691.5,424.6 L2708.2,419.7 L2724.8,414.9 L2741.5,410.0 L2757.7,407.2 L2774.3,406.4 L2791.0,406.8 L2807.2,408.0 L2823.8,411.2 L2840.1,415.7 L2856.7,421.0 L2872.9,425.8 L2889.6,430.3 L2906.2,434.0 L2922.9,436.0 L2939.5,437.2 L2956.1,438.0 L2972.4,438.0 L2989.0,437.6 L3005.2,436.4 L3021.9,436.8 L3038.1,439.2 L3054.7,443.7 L3071.4,447.7 L3087.6,451.4 L3102.1,451.8 L3120.8,454.2 L3138.6,455.0 L3157.5,457.6 L3171.7,459.5 L3188.1,464.6 L3204.8,468.6 L3221.3,472.3 L3238.0,474.0 L3254.4,473.7 L3270.6,472.3 L3287.0,470.9 L3303.7,468.0 L3320.4,469.2 L3336.8,470.3 L3353.3,471.4 L3369.7,472.8 L3386.1,473.4 L3400.3,474.0" fill="none" stroke="#1fa3dc" stroke-width="1.5" stroke-linejoin="round"/>
<path d="M3.0,1118.1 L27.9,1123.4 L44.4,1118.1 L60.6,1117.1 L77.1,1117.3 L93.9,1119.3 L110.2,1119.5 L126.8,1121.5 L143.3,1128.0 L159.9,1134.3 L176.2,1139.5 L192.8,1144.3 L209.3,1147.0 L225.9,1149.4 L242.2,1151.8 L258.8,1154.0 L275.3,1153.4 L293.1,1152.6 L309.7,1154.6 L326.4,1158.3 L342.6,1160.9 L359.3,1164.1 L375.9,1169.2 L392.2,1169.8 L408.8,1168.6 L425.3,1164.9 L441.9,1162.5 L458.2,1160.9 L477.4,1159.0 L491.1,1156.7 L507.7,1153.5 L520.0,1152.0 L540.3,1149.9 L556.6,1146.8 L573.7,1139.2 L590.3,1130.6 L606.8,1123.2 L622.7,1115.3 L639.3,1104.6 L655.8,1093.2 L672.6,1077.0 L688.9,1063.2 L705.4,1048.5 L722.0,1035.7 L738.5,1020.3 L755.0,1006.2 L771.6,990.3 L788.1,974.4 L804.7,953.6 L821.2,930.0 L837.7,904.9 L854.3,880.4 L870.8,856.5 L887.4,833.5 L903.9,815.7 L918.5,798.8 L937.6,779.6 L955.5,760.5 L970.9,744.0 L987.8,726.4 L1004.0,711.9 L1020.6,688.7 L1037.1,663.3 L1053.7,638.7 L1069.9,614.7 L1086.4,591.5 L1103.0,571.4 L1119.5,549.6 L1136.1,533.7 L1152.6,524.2 L1168.9,519.3 L1185.8,515.4 L1202.0,513.6 L1218.5,512.6 L1235.1,512.6 L1251.6,512.2 L1267.8,509.4 L1283.5,508.0 L1300.4,502.1 L1317.8,494.2 L1334.1,488.7 L1350.7,492.5 L1367.3,499.7 L1383.9,502.4 L1400.2,507.0 L1416.8,508.2 L1434.8,505.6 L1451.1,507.6 L1467.7,505.3 L1484.0,501.8 L1500.6,497.1 L1517.1,490.1 L1533.7,483.7 L1550.3,477.0 L1566.6,470.4 L1583.2,462.8 L1599.8,458.4 L1616.4,459.9 L1632.9,464.5 L1649.2,468.3 L1665.8,469.8 L1682.1,468.3 L1698.7,464.2 L1715.3,462.8 L1731.6,469.5 L1748.2,480.0 L1762.4,489.8 L1780.9,502.8 L1798.8,515.7 L1814.2,523.6 L1830.8,532.1 L1847.3,540.4 L1863.8,550.5 L1880.1,561.2 L1896.9,572.0 L1913.1,583.0 L1930.0,592.5 L1946.2,594.3 L1962.8,594.6 L1979.0,594.6 L1996.8,597.4 L2013.6,597.4 L2029.8,597.1 L2046.7,596.8 L2063.2,588.2 L2079.8,578.7 L2096.3,569.8 L2112.8,561.2 L2129.1,552.4 L2145.6,544.4 L2161.1,533.7 L2178.7,523.8 L2195.2,504.6 L2211.8,487.0 L2228.2,471.6 L2244.3,456.7 L2261.1,439.1 L2278.8,422.8 L2294.3,410.6 L2310.7,403.2 L2327.5,389.9 L2343.9,375.8 L2360.3,360.2 L2376.7,346.2 L2393.5,329.4 L2409.9,316.9 L2426.3,311.4 L2443.1,314.2 L2459.5,315.3 L2475.9,322.0 L2492.3,325.9 L2509.1,329.4 L2525.1,339.1 L2541.9,348.1 L2558.3,354.4 L2575.9,358.3 L2592.7,364.1 L2609.1,369.6 L2625.9,380.9 L2641.1,386.8 L2658.7,399.0 L2677.7,412.1 L2691.5,423.0 L2708.2,434.0 L2724.8,446.9 L2741.5,455.1 L2757.7,456.3 L2774.3,457.1 L2791.0,457.1 L2807.2,457.1 L2823.8,467.6 L2840.1,478.6 L2856.7,492.0 L2872.9,503.8 L2889.6,515.5 L2906.2,528.5 L2922.9,537.8 L2939.5,545.1 L2956.1,548.4 L2972.4,546.8 L2989.0,540.7 L3005.2,537.4 L3021.9,532.2 L3038.1,532.2 L3054.7,539.5 L3071.4,546.0 L3087.6,549.6 L3102.1,540.5 L3120.8,530.6 L3138.6,521.2 L3157.5,501.4 L3171.7,485.3 L3188.1,466.3 L3204.8,449.3 L3221.3,432.9 L3238.0,416.5 L3254.4,405.7 L3270.6,401.5 L3287.0,395.8 L3303.7,394.7 L3320.4,402.6 L3336.8,412.5 L3353.3,423.8 L3369.7,432.3 L3386.1,429.2 L3400.3,425.3" fill="none" stroke="#f5e342" stroke-width="1.5" stroke-linejoin="round"/>
<path d="M3.0,1078.5 L11.1,1082.6 L27.9,1101.4 L44.4,1108.8 L60.6,1129.6 L77.1,1154.2 L93.9,1182.1 L110.2,1200.1 L126.8,1218.8 L143.3,1226.7 L159.9,1228.3 L176.2,1217.8 L192.8,1202.9 L209.3,1188.0 L225.9,1170.6 L242.2,1151.2 L258.8,1133.2 L275.3,1109.4 L293.1,1093.9 L309.7,1089.2 L326.4,1097.5 L342.6,1109.8 L359.3,1143.5 L375.9,1175.4 L392.2,1192.4 L408.8,1197.6 L425.3,1199.1 L441.9,1193.4 L458.2,1185.7 L474.8,1184.9 L491.1,1181.9 L507.9,1173.8 L523.0,1162.1 L540.3,1146.5 L556.6,1121.4 L573.7,1072.4 L590.3,1038.7 L606.8,992.8 L622.7,953.9 L639.3,921.4 L655.8,918.0 L672.6,897.8 L688.9,903.0 L705.4,906.1 L722.0,912.2 L738.5,901.5 L755.0,912.5 L771.6,900.9 L788.1,891.1 L804.7,859.5 L821.2,822.8 L828.6,800.0 L840.4,764.5 L855.7,718.6 L871.9,671.1 L888.8,636.9 L905.0,613.7 L921.6,598.2 L938.1,583.7 L954.7,575.3 L970.9,566.8 L987.8,568.6 L1004.0,564.0 L1020.6,542.2 L1037.1,513.3 L1053.7,492.2 L1069.9,456.2 L1086.4,434.4 L1103.0,437.2 L1119.5,436.2 L1136.1,436.5 L1152.6,458.3 L1168.9,479.8 L1185.8,498.9 L1202.0,529.8 L1218.5,552.0 L1235.1,567.2 L1251.6,569.3 L1267.8,558.4 L1283.5,551.2 L1300.4,524.4 L1317.8,497.1 L1334.1,470.6 L1350.7,475.0 L1367.3,481.7 L1383.9,495.1 L1400.2,507.9 L1416.8,512.5 L1434.8,488.4 L1451.1,465.4 L1467.7,447.7 L1484.0,435.4 L1500.6,433.7 L1517.1,434.3 L1533.7,435.1 L1550.3,442.4 L1566.6,444.5 L1583.2,433.4 L1599.8,434.3 L1616.4,457.8 L1632.9,473.8 L1649.2,485.5 L1665.8,498.6 L1682.1,513.4 L1698.7,498.6 L1715.3,486.6 L1731.6,513.4 L1748.2,553.3 L1762.4,578.7 L1780.9,618.3 L1797.8,656.8 L1814.2,648.8 L1830.8,642.4 L1847.3,629.5 L1863.8,627.4 L1880.1,627.7 L1896.9,638.7 L1913.1,638.7 L1930.0,643.3 L1946.2,633.2 L1962.8,609.3 L1979.0,578.1 L1996.8,556.0 L2013.6,531.2 L2029.8,508.3 L2046.7,494.5 L2063.2,487.7 L2079.8,476.4 L2096.3,475.2 L2112.8,474.6 L2129.1,480.4 L2145.6,474.0 L2161.1,460.4 L2178.7,446.6 L2195.2,403.3 L2211.8,364.2 L2228.2,346.0 L2245.9,331.3 L2261.1,303.2 L2277.5,308.3 L2294.3,303.2 L2310.7,305.9 L2327.5,291.1 L2343.9,276.7 L2360.3,249.7 L2376.7,234.9 L2393.5,190.8 L2409.9,182.5 L2426.3,218.9 L2443.1,289.2 L2459.5,359.4 L2475.9,445.4 L2492.3,497.3 L2509.1,519.2 L2525.1,507.1 L2541.9,496.9 L2558.3,477.0 L2575.9,460.2 L2592.7,440.3 L2609.1,427.4 L2625.9,432.5 L2641.1,434.6 L2658.7,453.1 L2677.7,458.5 L2691.5,459.9 L2708.2,442.5 L2724.8,424.2 L2741.5,408.4 L2757.7,405.1 L2774.3,431.9 L2791.0,459.1 L2807.2,490.4 L2823.8,550.0 L2840.1,610.9 L2856.7,651.5 L2872.9,685.6 L2889.6,709.9 L2906.2,706.7 L2922.9,680.7 L2939.5,640.5 L2956.1,606.8 L2972.4,558.9 L2989.0,498.5 L3005.2,451.4 L3021.9,405.5 L3038.1,375.9 L3054.7,397.8 L3071.4,430.3 L3087.6,453.8 L3103.2,457.8 L3120.8,453.3 L3138.6,413.0 L3157.5,377.0 L3171.7,357.5 L3188.1,367.2 L3204.8,367.2 L3221.3,357.3 L3238.0,352.4 L3254.4,358.7 L3270.6,373.4 L3287.0,385.6 L3303.7,405.4 L3320.4,447.9 L3336.8,480.5 L3353.3,495.2 L3369.7,520.7 L3386.1,534.9 L3400.3,519.3" fill="none" stroke="#f01e1e" stroke-width="1.5" stroke-linejoin="round"/>
<path d="M11.25,1081.6V1126.0M5.65,1093.1H11.25M11.25,1111.2H16.85M27.75,1087.2V1147.2M22.15,1099.1H27.75M27.75,1142.5H33.35M44.25,1095.1V1133.6M38.65,1125.0H44.25M44.25,1115.3H49.85M60.75,1153.2V1225.1M55.15,1156.3H60.75M60.75,1193.6H66.35M77.25,1197.0V1246.1M71.65,1207.3H77.25M77.25,1213.2H82.85M93.75,1215.0V1263.9M88.15,1219.2H93.75M93.75,1246.1H99.35M110.25,1226.9V1261.0M104.65,1243.1H110.25M110.25,1231.1H115.85M126.75,1186.3V1232.8M121.15,1196.6H126.75M126.75,1210.2H132.35M143.25,1194.0V1235.8M137.65,1208.9H143.25M143.25,1232.8H148.85M159.75,1183.3V1247.7M154.15,1247.7H159.75M159.75,1222.1H165.35M176.25,1186.3V1234.0M170.65,1210.2H176.25M176.25,1193.6H181.85M192.75,1145.6V1193.6M187.15,1187.5H192.75M192.75,1160.7H198.35M209.25,1120.1V1176.8M203.65,1163.7H209.25M209.25,1133.6H214.85M225.75,1088.8V1151.8M220.15,1142.5H225.75M225.75,1142.5H231.35M242.25,1106.8V1151.8M236.65,1124.6H242.25M242.25,1123.4H247.85M258.75,1079.8V1132.2M253.15,1090.0H258.75M258.75,1102.0H264.35M275.25,1041.0V1114.1M269.65,1105.2H275.25M275.25,1041.6H280.85M291.75,1044.0V1074.9M286.15,1054.1H291.75M291.75,1058.4H297.35M308.25,1112.9V1181.5M302.65,1148.4H308.25M308.25,1119.9H313.85M324.75,1104.0V1166.8M319.15,1105.2H324.75M324.75,1163.9H330.35M341.25,1138.3V1181.5M335.65,1154.6H341.25M341.25,1164.9H346.85M357.75,1159.1V1211.4M352.15,1172.8H357.75M357.75,1210.2H363.35M374.25,1199.7V1243.1M368.65,1213.2H374.25M374.25,1217.8H379.85M390.75,1183.1V1213.2M385.15,1205.7H390.75M390.75,1202.9H396.35M407.25,1178.9V1216.0M401.65,1198.2H407.25M407.25,1190.8H412.85M423.75,1159.1V1201.3M418.15,1195.2H423.75M423.75,1172.8H429.35M440.25,1162.3V1201.3M434.65,1184.9H440.25M440.25,1184.9H445.85M456.75,1159.1V1183.1M451.15,1175.8H456.75M456.75,1178.9H462.35M473.25,1177.3V1219.0M467.65,1187.5H473.25M473.25,1198.2H478.85M491.25,1157.7V1195.2M485.65,1181.9H491.25M491.25,1175.8H496.85M507.75,1129.0V1175.4M502.15,1166.8H507.75M507.75,1129.0H513.35M524.25,1107.0V1154.5M518.65,1129.1H524.25M524.25,1126.0H529.85M540.75,1095.1V1149.0M535.15,1132.1H540.75M540.75,1105.2H546.35M557.25,1047.9V1112.8M551.65,1097.5H557.25M557.25,1071.8H562.85M573.75,931.5V1094.8M568.15,1049.4H573.75M573.75,947.4H579.35M590.25,925.4V1005.9M584.65,980.5H590.25M590.25,945.9H595.85M606.75,885.9V971.3M601.15,941.6H606.75M606.75,902.7H612.35M623.25,890.5V944.7M617.65,893.2H623.25M623.25,902.7H628.85M639.75,869.6V934.0M634.15,904.0H639.75M639.75,908.9H645.35M656.25,873.9V938.6M650.65,893.5H656.25M656.25,931.2H661.85M672.75,802.3V907.0M667.15,904.0H672.75M672.75,842.4H678.35M689.25,838.7V936.7M683.65,839.3H689.25M689.25,931.2H694.85M705.75,893.8V943.2M700.15,934.0H705.75M705.75,917.7H711.35M722.25,890.8V963.7M716.65,900.9H722.25M722.25,940.4H727.85M738.75,858.0V935.5M733.15,916.2H738.75M738.75,875.5H744.35M755.25,859.5V905.5M749.65,880.1H755.25M755.25,898.7H760.85M771.75,868.1V921.7M766.15,894.8H771.75M771.75,872.7H777.35M788.25,850.4V891.7M782.65,881.6H788.25M788.25,867.8H793.85M804.75,777.8V866.6M799.15,848.5H804.75M804.75,778.4H810.35M821.25,670.0V769.0M815.65,762.7H821.25M821.25,697.2H826.85M837.75,627.1V694.0M832.15,694.0H837.75M837.75,646.1H843.35M854.25,592.2V670.0M848.65,658.1H854.25M854.25,638.7H859.85M870.75,595.4V653.5M865.15,641.9H870.75M870.75,600.6H876.35M887.25,590.8V639.4M881.65,634.1H887.25M887.25,608.7H892.85M903.75,556.3V610.2M898.15,607.7H903.75M903.75,577.0H909.35M920.25,559.1V598.2M914.65,572.5H920.25M920.25,569.6H925.85M936.75,524.6V564.0M931.15,552.7H936.75M936.75,563.3H942.35M953.25,536.9V604.2M947.65,547.1H953.25M953.25,560.8H958.85M969.75,543.9V617.5M964.15,553.8H969.75M969.75,563.3H975.35M986.25,535.1V601.3M980.65,537.9H986.25M986.25,585.8H991.85M1002.75,524.6V602.8M997.15,566.5H1002.75M1002.75,548.5H1008.35M1019.25,446.7V557.7M1013.65,530.2H1019.25M1019.25,461.9H1024.85M1037.25,401.6V456.9M1031.65,448.1H1037.25M1037.25,406.9H1042.85M1053.75,407.6V463.3M1048.15,417.8H1053.75M1053.75,460.5H1059.35M1070.25,380.9V448.1M1064.65,422.4H1070.25M1070.25,404.5H1075.85M1086.75,380.9V436.5M1081.15,392.5H1086.75M1086.75,435.5H1092.35M1103.25,427.0V493.2M1097.65,446.0H1103.25M1103.25,478.1H1108.85M1119.75,370.3V484.1M1114.15,473.5H1119.75M1119.75,403.0H1125.35M1136.25,410.4V468.9M1130.65,411.5H1136.25M1136.25,461.9H1141.85M1152.75,431.9V533.4M1147.15,433.0H1152.75M1152.75,509.4H1158.35M1169.25,473.5V563.7M1163.65,492.9H1169.25M1169.25,549.9H1174.85M1185.75,543.6V601.0M1180.15,554.2H1185.75M1185.75,569.6H1191.35M1202.25,538.3V587.6M1196.65,560.5H1202.25M1202.25,563.0H1207.85M1218.75,514.0V590.8M1213.15,548.5H1218.75M1218.75,579.9H1224.35M1235.25,558.7V610.2M1229.65,602.4H1235.25M1235.25,573.2H1240.85M1251.75,520.3V614.7M1246.15,585.8H1251.75M1251.75,558.7H1257.35M1268.25,508.4V577.0M1262.65,565.4H1268.25M1268.25,512.6H1273.85M1284.75,477.0V549.9M1279.15,527.4H1284.75M1284.75,524.2H1290.35M1301.25,395.9V506.4M1295.65,500.3H1301.25M1301.25,439.2H1306.85M1317.75,419.4V486.9M1312.15,464.5H1317.75M1317.75,439.2H1323.35M1334.25,421.2V477.6M1328.65,437.5H1334.25M1334.25,437.5H1339.85M1350.75,440.7V539.6M1345.15,457.0H1350.75M1350.75,535.2H1356.35M1367.25,485.8V569.6M1361.65,527.7H1367.25M1367.25,561.1H1372.85M1383.75,478.2V542.5M1378.15,524.5H1383.75M1383.75,502.9H1389.35M1400.25,488.7V529.1M1394.65,499.2H1400.25M1400.25,500.3H1405.85M1416.75,428.7V480.5M1411.15,480.0H1416.75M1416.75,461.9H1422.35M1433.25,407.8V468.6M1427.65,459.6H1433.25M1433.25,425.5H1438.85M1449.75,418.0V445.3M1444.15,437.5H1449.75M1449.75,437.5H1455.35M1466.25,365.6V422.9M1460.65,418.0H1466.25M1466.25,415.4H1471.85M1482.75,383.6V455.8M1477.15,397.0H1482.75M1482.75,438.3H1488.35M1499.25,404.6V456.4M1493.65,422.6H1499.25M1499.25,455.8H1504.85M1515.75,422.6V479.7M1510.15,464.5H1515.75M1515.75,428.5H1521.35M1532.25,407.8V479.7M1526.65,427.0H1532.25M1532.25,440.7H1537.85M1548.75,428.7V463.1M1543.15,451.1H1548.75M1548.75,451.1H1554.35M1565.25,413.6V451.1M1559.65,430.2H1565.25M1565.25,449.1H1570.85M1583.25,368.5V445.3M1577.65,438.9H1583.25M1583.25,400.2H1588.85M1599.75,386.6V472.4M1594.15,411.9H1599.75M1599.75,433.1H1605.35M1616.25,434.6V571.3M1610.65,440.7H1616.25M1616.25,553.3H1621.85M1632.75,496.2V548.6M1627.15,536.7H1632.75M1632.75,533.5H1638.35M1649.25,488.7V521.9M1643.65,512.5H1649.25M1649.25,508.2H1654.85M1665.75,457.3V512.8M1660.15,482.6H1665.75M1665.75,465.1H1671.35M1682.25,457.3V532.0M1676.65,482.6H1682.25M1682.25,506.7H1687.85M1698.75,473.8V512.8M1693.15,509.6H1698.75M1698.75,479.7H1704.35M1715.25,455.5V502.4M1709.65,494.8H1715.25M1715.25,473.8H1720.85M1731.75,446.8V663.6M1726.15,459.9H1731.75M1731.75,641.7H1737.35M1748.25,638.2V703.1M1742.65,641.7H1748.25M1748.25,659.8H1753.85M1764.75,646.1V679.3M1759.15,667.3H1764.75M1764.75,664.1H1770.35M1781.25,632.7V679.3M1775.65,655.1H1781.25M1781.25,655.1H1786.85M1797.75,636.9V683.8M1792.15,656.8H1797.75M1797.75,663.8H1803.35M1814.25,596.8V653.7M1808.65,631.1H1814.25M1814.25,600.8H1819.85M1830.75,608.7V653.7M1825.15,629.5H1830.75M1830.75,626.5H1836.35M1847.25,571.0V624.0M1841.65,587.6H1847.25M1847.25,599.5H1852.85M1863.75,605.7V666.9M1858.15,620.4H1863.75M1863.75,644.5H1869.35M1880.25,643.0V696.9M1874.65,647.6H1880.25M1880.25,666.9H1885.85M1896.75,640.0V687.7M1891.15,663.8H1896.75M1896.75,656.8H1902.35M1913.25,607.2V649.4M1907.65,644.5H1913.25M1913.25,627.7H1918.85M1929.75,569.8V635.7M1924.15,620.4H1929.75M1929.75,620.4H1935.35M1946.25,589.1V643.0M1940.65,627.7H1946.25M1946.25,593.4H1951.85M1962.75,524.5V611.8M1957.15,599.5H1962.75M1962.75,536.7H1968.35M1979.25,498.8V560.6M1973.65,559.7H1979.25M1979.25,507.6H1984.85M1995.75,500.6V551.4M1990.15,510.7H1995.75M1995.75,522.0H2001.35M2012.25,489.9V533.7M2006.65,509.5H2012.25M2012.25,498.8H2017.85M2028.75,460.2V504.0M2023.15,485.6H2028.75M2028.75,476.7H2034.35M2045.25,451.3V494.2M2039.65,458.6H2045.25M2045.25,465.7H2050.85M2061.75,415.1V474.0M2056.15,445.2H2061.75M2061.75,473.3H2067.35M2078.25,433.2V473.3M2072.65,458.6H2078.25M2078.25,466.0H2083.85M2094.75,449.8V515.9M2089.15,462.9H2094.75M2094.75,493.2H2100.35M2112.75,473.6V510.7M2107.15,509.8H2112.75M2112.75,474.6H2118.35M2129.25,467.8V506.7M2123.65,485.3H2129.25M2129.25,494.8H2134.85M2145.75,437.8V492.9M2140.15,484.1H2145.75M2145.75,442.1H2151.35M2162.25,390.0V458.6M2156.65,407.8H2162.25M2162.25,396.8H2167.85M2178.75,383.9V426.5M2173.15,391.3H2178.75M2178.75,425.9H2184.35M2195.25,261.8V403.6M2189.65,376.2H2195.25M2195.25,264.6H2200.85M2211.75,238.0V298.1M2206.15,278.6H2211.75M2211.75,291.9H2217.35M2228.25,270.8V362.6M2222.65,291.9H2228.25M2228.25,350.5H2233.85M2244.75,299.7V343.8M2239.15,343.0H2244.75M2244.75,328.2H2250.35M2261.25,242.3V338.8M2255.65,322.0H2261.25M2261.25,278.6H2266.85M2277.75,261.8V298.1M2272.15,291.9H2277.75M2277.75,291.9H2283.35M2294.25,238.0V307.1M2288.65,298.1H2294.25M2294.25,268.1H2299.85M2310.75,249.7V370.0M2305.15,263.4H2310.75M2310.75,364.1H2316.35M2327.25,167.7V401.6M2321.65,371.9H2327.25M2327.25,254.8H2332.85M2343.75,173.6V245.8M2338.15,233.7H2343.75M2343.75,206.4H2349.35M2360.25,150.9V222.8M2354.65,200.5H2360.25M2360.25,158.7H2365.85M2376.75,133.0V206.4M2371.15,147.8H2376.75M2376.75,191.5H2382.35M2393.25,124.0V176.7M2387.65,136.1H2393.25M2393.25,143.5H2398.85M2409.75,107.2V251.7M2404.15,158.3H2409.75M2409.75,212.6H2415.35M2426.25,243.9V429.7M2420.65,250.1H2426.25M2426.25,386.8H2431.85M2442.75,455.9V560.6M2437.15,501.2H2442.75M2442.75,529.3H2448.35M2459.25,468.8V539.9M2453.65,524.2H2459.25M2459.25,521.1H2464.85M2475.75,450.0V575.4M2470.15,465.7H2475.75M2475.75,571.5H2481.35M2492.25,473.9V571.1M2486.65,563.7H2492.25M2492.25,478.2H2497.85M2508.75,470.7V518.8M2503.15,488.7H2508.75M2508.75,495.0H2514.35M2525.25,450.0V490.3M2519.65,476.6H2525.25M2525.25,466.1H2530.85M2541.75,464.9V511.0M2536.15,491.4H2541.75M2541.75,473.9H2547.35M2558.25,443.8V506.7M2552.65,457.1H2558.25M2558.25,474.6H2563.85M2574.75,375.1V438.7M2569.15,436.0H2574.75M2574.75,395.8H2580.35M2591.25,368.8V423.9M2585.65,401.6H2591.25M2591.25,393.4H2596.85M2607.75,370.0V406.3M2602.15,398.5H2607.75M2607.75,400.1H2613.35M2624.25,400.1V502.0M2618.65,401.6H2624.25M2624.25,498.5H2629.85M2640.75,450.0V496.1M2635.15,455.9H2640.75M2640.75,487.5H2646.35M2658.75,464.9V499.2M2653.15,484.4H2658.75M2658.75,487.1H2664.35M2675.25,415.3V466.8M2669.65,466.0H2675.25M2675.25,420.2H2680.85M2691.75,361.3V415.3M2686.15,390.9H2691.75M2691.75,409.6H2697.35M2708.25,403.1V435.6M2702.65,421.4H2708.25M2708.25,406.4H2713.85M2724.75,408.8V470.5M2719.15,424.2H2724.75M2724.75,410.0H2730.35M2741.25,377.9V424.2M2735.65,386.9H2741.25M2741.25,397.0H2746.85M2757.75,396.2V463.2M2752.15,426.6H2757.75M2757.75,401.9H2763.35M2774.25,454.6V552.9M2768.65,457.5H2774.25M2774.25,538.2H2779.85M2790.75,519.2V570.7M2785.15,544.7H2790.75M2790.75,544.7H2796.35M2807.25,520.4V582.9M2801.65,530.9H2807.25M2807.25,568.3H2812.85M2823.75,533.8V692.1M2818.15,569.9H2823.75M2823.75,685.2H2829.35M2840.25,675.0V734.7M2834.65,691.2H2840.25M2840.25,719.6H2845.85M2856.75,703.0V770.4M2851.15,712.3H2856.75M2856.75,740.8H2862.35M2873.25,700.2V788.2M2867.65,725.7H2873.25M2873.25,713.2H2878.85M2889.75,662.8V752.5M2884.15,708.3H2889.75M2889.75,695.3H2895.35M2906.25,640.1V677.8M2900.65,673.8H2906.25M2906.25,662.8H2911.85M2922.75,589.4V650.3M2917.15,632.4H2922.75M2922.75,591.8H2928.35M2939.25,530.9V589.4M2933.65,583.3H2939.25M2939.25,537.4H2944.85M2955.75,502.5V565.0M2950.15,544.7H2955.75M2955.75,551.6H2961.35M2972.25,451.8V513.9M2966.65,481.0H2972.25M2972.25,453.4H2977.85M2988.75,339.0V442.1M2983.15,441.3H2988.75M2988.75,365.8H2994.35M3005.25,311.8V380.0M2999.65,369.0H3005.25M3005.25,349.1H3010.85M3021.75,292.3V326.4M3016.15,309.8H3021.75M3021.75,307.3H3027.35M3038.25,305.7V455.9M3032.65,337.4H3038.25M3038.25,403.9H3043.85M3054.75,455.9V573.6M3049.15,478.2H3054.75M3054.75,561.4H3060.35M3071.25,525.3V571.1M3065.65,559.3H3071.25M3071.25,532.6H3076.85M3087.75,455.9V550.0M3082.15,533.8H3087.75M3087.75,464.8H3093.35M3104.25,325.2V498.9M3098.65,487.1H3104.25M3104.25,331.3H3109.85M3120.75,287.9V393.8M3115.15,304.5H3120.75M3120.75,379.2H3126.35M3137.25,327.2V402.7M3131.65,384.0H3137.25M3137.25,388.1H3142.85M3153.75,337.1V391.0M3148.15,343.1H3153.75M3153.75,349.3H3159.35M3170.25,318.2V353.3M3164.65,338.6H3170.25M3170.25,338.6H3175.85M3188.25,360.1V425.8M3182.65,361.2H3188.25M3188.25,382.5H3193.85M3204.75,370.3V417.9M3199.15,400.0H3204.75M3204.75,378.8H3210.35M3221.25,326.9V381.9M3215.65,367.2H3221.25M3221.25,338.6H3226.85M3237.75,293.8V355.0M3232.15,353.9H3237.75M3237.75,322.1H3243.35M3254.25,326.9V408.8M3248.65,328.1H3254.25M3254.25,370.0H3259.85M3270.75,420.2V471.1M3265.15,445.1H3270.75M3270.75,457.0H3276.35M3287.25,426.7V462.6M3281.65,432.9H3287.25M3287.25,439.1H3292.85M3303.75,420.2V466.9M3298.15,434.3H3303.75M3303.75,434.3H3309.35M3320.25,447.9V539.7M3314.65,464.3H3320.25M3320.25,527.8H3325.85M3336.75,495.2V548.5M3331.15,496.4H3336.75M3336.75,545.4H3342.35M3353.25,517.3V566.6M3347.65,532.1H3353.25M3353.25,527.8H3358.85M3369.75,520.7V598.1M3364.15,547.1H3369.75M3369.75,570.9H3375.35M3386.25,432.9V556.1M3380.65,482.5H3386.25M3386.25,502.3H3391.85M3402.75,428.7V459.8M3397.15,452.7H3402.75M3402.75,440.8H3408.35" fill="none" stroke="#ffffff" stroke-width="1.45"/>
<rect x="3" y="1382" width="3409" height="1.8" fill="#73777b"/>
<rect x="3" y="1648.7" width="3410" height="1.8" fill="#c9ccd0"/>
<rect x="3411.05" y="70.7" width="1.75" height="1579.6" fill="#c9ccd0"/>
<rect x="3412" y="87.40" width="4.8" height="1.7" fill="#c9ccd0"/>
<text x="3420.1" y="93.10" font-family="Liberation Sans, sans-serif" font-size="18.2" fill="#d2d4d7" stroke="#d2d4d7" stroke-width="0.35" textLength="44.4" lengthAdjust="spacingAndGlyphs">30.00</text>
<rect x="3412" y="337.00" width="4.8" height="1.7" fill="#c9ccd0"/>
<text x="3420.1" y="342.70" font-family="Liberation Sans, sans-serif" font-size="18.2" fill="#d2d4d7" stroke="#d2d4d7" stroke-width="0.35" textLength="44.4" lengthAdjust="spacingAndGlyphs">27.50</text>
<rect x="3412" y="586.60" width="4.8" height="1.7" fill="#c9ccd0"/>
<text x="3420.1" y="592.30" font-family="Liberation Sans, sans-serif" font-size="18.2" fill="#d2d4d7" stroke="#d2d4d7" stroke-width="0.35" textLength="44.4" lengthAdjust="spacingAndGlyphs">25.00</text>
<rect x="3412" y="836.20" width="4.8" height="1.7" fill="#c9ccd0"/>
<text x="3420.1" y="841.90" font-family="Liberation Sans, sans-serif" font-size="18.2" fill="#d2d4d7" stroke="#d2d4d7" stroke-width="0.35" textLength="44.4" lengthAdjust="spacingAndGlyphs">22.50</text>
<rect x="3412" y="1085.80" width="4.8" height="1.7" fill="#c9ccd0"/>
<text x="3420.1" y="1091.50" font-family="Liberation Sans, sans-serif" font-size="18.2" fill="#d2d4d7" stroke="#d2d4d7" stroke-width="0.35" textLength="44.4" lengthAdjust="spacingAndGlyphs">20.00</text>
<rect x="3412" y="1335.40" width="4.8" height="1.7" fill="#c9ccd0"/>
<text x="3420.1" y="1341.10" font-family="Liberation Sans, sans-serif" font-size="18.2" fill="#d2d4d7" stroke="#d2d4d7" stroke-width="0.35" textLength="44.4" lengthAdjust="spacingAndGlyphs">17.50</text>
<rect x="3412" y="1431.25" width="4.8" height="1.7" fill="#c9ccd0"/>
<text x="3421.15" y="1437.00" font-family="Liberation Sans, sans-serif" font-size="18.2" fill="#d2d4d7" stroke="#d2d4d7" stroke-width="0.35" textLength="48.4" lengthAdjust="spacingAndGlyphs">12.5m</text>
<rect x="3412" y="1474.80" width="4.8" height="1.7" fill="#c9ccd0"/>
<text x="3421.15" y="1480.55" font-family="Liberation Sans, sans-serif" font-size="18.2" fill="#d2d4d7" stroke="#d2d4d7" stroke-width="0.35" textLength="58.2" lengthAdjust="spacingAndGlyphs">10.00m</text>
<rect x="3412" y="1518.35" width="4.8" height="1.7" fill="#c9ccd0"/>
<text x="3421.15" y="1524.10" font-family="Liberation Sans, sans-serif" font-size="18.2" fill="#d2d4d7" stroke="#d2d4d7" stroke-width="0.35" textLength="48.4" lengthAdjust="spacingAndGlyphs">7.50m</text>
<rect x="3412" y="1561.90" width="4.8" height="1.7" fill="#c9ccd0"/>
<text x="3421.15" y="1567.65" font-family="Liberation Sans, sans-serif" font-size="18.2" fill="#d2d4d7" stroke="#d2d4d7" stroke-width="0.35" textLength="48.4" lengthAdjust="spacingAndGlyphs">5.00m</text>
<rect x="3412" y="1605.45" width="4.8" height="1.7" fill="#c9ccd0"/>
<text x="3421.15" y="1611.20" font-family="Liberation Sans, sans-serif" font-size="18.2" fill="#d2d4d7" stroke="#d2d4d7" stroke-width="0.35" textLength="48.4" lengthAdjust="spacingAndGlyphs">2.50m</text>
<rect x="333.02" y="1650" width="1.9" height="7.6" fill="#c9ccd0"/>
<text x="333.92" y="1676" font-family="Liberation Sans, sans-serif" font-size="17.8" fill="#d2d4d7" text-anchor="middle" stroke="#d2d4d7" stroke-width="0.45">Feb</text>
<rect x="663.94" y="1650" width="1.9" height="7.6" fill="#c9ccd0"/>
<text x="664.84" y="1676" font-family="Liberation Sans, sans-serif" font-size="17.8" fill="#d2d4d7" text-anchor="middle" stroke="#d2d4d7" stroke-width="0.45">Mar</text>
<rect x="994.86" y="1650" width="1.9" height="7.6" fill="#c9ccd0"/>
<text x="995.76" y="1676" font-family="Liberation Sans, sans-serif" font-size="17.8" fill="#d2d4d7" text-anchor="middle" stroke="#d2d4d7" stroke-width="0.45">Apr</text>
<rect x="1358.87" y="1650" width="1.9" height="7.6" fill="#c9ccd0"/>
<text x="1359.77" y="1676" font-family="Liberation Sans, sans-serif" font-size="17.8" fill="#d2d4d7" text-anchor="middle" stroke="#d2d4d7" stroke-width="0.45">May</text>
<rect x="1722.88" y="1650" width="1.9" height="7.6" fill="#c9ccd0"/>
<text x="1723.78" y="1676" font-family="Liberation Sans, sans-serif" font-size="17.8" fill="#d2d4d7" text-anchor="middle" stroke="#d2d4d7" stroke-width="0.45">Jun</text>
<rect x="2037.26" y="1650" width="1.9" height="7.6" fill="#c9ccd0"/>
<text x="2038.16" y="1676" font-family="Liberation Sans, sans-serif" font-size="17.8" fill="#d2d4d7" text-anchor="middle" stroke="#d2d4d7" stroke-width="0.45">Jul</text>
<rect x="2401.27" y="1650" width="1.9" height="7.6" fill="#c9ccd0"/>
<text x="2402.17" y="1676" font-family="Liberation Sans, sans-serif" font-size="17.8" fill="#d2d4d7" text-anchor="middle" stroke="#d2d4d7" stroke-width="0.45">Aug</text>
<rect x="2765.28" y="1650" width="1.9" height="7.6" fill="#c9ccd0"/>
<text x="2766.18" y="1676" font-family="Liberation Sans, sans-serif" font-size="17.8" fill="#d2d4d7" text-anchor="middle" stroke="#d2d4d7" stroke-width="0.45">Sep</text>
<rect x="3096.20" y="1650" width="1.9" height="7.6" fill="#c9ccd0"/>
<text x="3097.10" y="1676" font-family="Liberation Sans, sans-serif" font-size="17.8" fill="#d2d4d7" text-anchor="middle" stroke="#d2d4d7" stroke-width="0.45">Oct</text>
<path d="M3397.6,607.3 L3408.8,595.7 Q3410.2,594.1 3412.6,594.1 H3466.5 Q3469.5,594.1 3469.5,597.1 V617.5 Q3469.5,620.5 3466.5,620.5 H3412.6 Q3410.2,620.5 3408.8,618.9 Z" fill="#e0208c"/>
<text x="3420.5" y="613.7" font-family="Liberation Sans, sans-serif" font-size="18.2" fill="#ffffff" stroke="#ffffff" stroke-width="0.35" textLength="44" lengthAdjust="spacingAndGlyphs">24.80</text>
<path d="M3397.6,517.4 L3408.8,505.8 Q3410.2,504.2 3412.6,504.2 H3466.5 Q3469.5,504.2 3469.5,507.2 V527.6 Q3469.5,530.6 3466.5,530.6 H3412.6 Q3410.2,530.6 3408.8,529.0 Z" fill="#fb1a16"/>
<text x="3420.5" y="523.8" font-family="Liberation Sans, sans-serif" font-size="18.2" fill="#ffffff" stroke="#ffffff" stroke-width="0.35" textLength="44" lengthAdjust="spacingAndGlyphs">25.70</text>
<path d="M3397.6,424.6 L3408.8,413.0 Q3410.2,411.4 3412.6,411.4 H3466.5 Q3469.5,411.4 3469.5,414.4 V434.8 Q3469.5,437.8 3466.5,437.8 H3412.6 Q3410.2,437.8 3408.8,436.2 Z" fill="#fbe94a"/>
<text x="3420.5" y="431.0" font-family="Liberation Sans, sans-serif" font-size="18.2" fill="#000000" stroke="#000000" stroke-width="0.35" textLength="44" lengthAdjust="spacingAndGlyphs">26.63</text>
<path d="M3397.6,474.5 L3408.8,462.9 Q3410.2,461.3 3412.6,461.3 H3466.5 Q3469.5,461.3 3469.5,464.3 V484.7 Q3469.5,487.7 3466.5,487.7 H3412.6 Q3410.2,487.7 3408.8,486.1 Z" fill="#25aee8"/>
<text x="3420.5" y="480.9" font-family="Liberation Sans, sans-serif" font-size="18.2" fill="#000000" stroke="#000000" stroke-width="0.35" textLength="44" lengthAdjust="spacingAndGlyphs">26.13</text>
<path d="M3397.6,464.5 L3408.8,452.9 Q3410.2,451.3 3412.6,451.3 H3466.5 Q3469.5,451.3 3469.5,454.3 V474.7 Q3469.5,477.7 3466.5,477.7 H3412.6 Q3410.2,477.7 3408.8,476.1 Z" fill="#6b3290"/>
<text x="3420.5" y="470.9" font-family="Liberation Sans, sans-serif" font-size="18.2" fill="#ffffff" stroke="#ffffff" stroke-width="0.35" textLength="44" lengthAdjust="spacingAndGlyphs">26.23</text>
<path d="M3397.6,440.5 L3408.8,428.9 Q3410.2,427.3 3412.6,427.3 H3466.5 Q3469.5,427.3 3469.5,430.3 V450.7 Q3469.5,453.7 3466.5,453.7 H3412.6 Q3410.2,453.7 3408.8,452.1 Z" fill="#8dc07c"/>
<text x="3420.5" y="446.9" font-family="Liberation Sans, sans-serif" font-size="18.2" fill="#ffffff" stroke="#ffffff" stroke-width="0.35" textLength="44" lengthAdjust="spacingAndGlyphs">26.47</text>
<rect x="0" y="0" width="3508" height="71" fill="#151f28"/>
<rect x="0" y="0" width="3508" height="1.2" fill="#05080b"/>
<rect x="0" y="0" width="1" height="68" fill="#05080b"/>
<rect x="0" y="66" width="3507" height="2" fill="#020405"/>
<circle cx="37.9" cy="31" r="9.9" fill="none" stroke="#e4e6e8" stroke-width="1.7"/><path d="M45,38.1 L51.7,44.4" stroke="#e4e6e8" stroke-width="1.8" stroke-linecap="butt"/>
<path d="M87,29.1H95M91,25.1V33.1" stroke="#e4e6e8" stroke-width="2.6"/><path d="M92.5,45 L102.2,31.9 L107.5,38.1 L117.1,25.1" fill="none" stroke="#e4e6e8" stroke-width="1.8"/>
<rect x="138.8" y="16" width="2.2" height="48" fill="#05080b"/>
<path d="M158,45.4 V39.3 L172.6,22.6 L180.4,28.6 L164.2,45.4 Z" fill="none" stroke="#e4e6e8" stroke-width="1.9" stroke-linejoin="miter"/><path d="M172.2,22.4 L174.9,19.6 L183.7,25.6 L180.6,28.9Z" fill="#e4e6e8"/><path d="M164,45.4 H182" stroke="#8d9399" stroke-width="1.5"/>
<path d="M221,33H230.8M236.2,33H246M233.5,21V30.3M233.5,35.7V45.5" stroke="#d9dbdd" stroke-width="2" fill="none"/>
<rect x="203.9" y="60.1" width="60.2" height="4" fill="#3f8ff7"/>
<path d="M297.9,21.9 H324 V43.9 L318.3,39 H297.9 Z" fill="#e2e3e4"/>
<path d="M301.2,25.7H309M301.2,28.7H313.4M301.2,31.7H313.4M301.2,34.6H313.4M316.3,28.7H321M316.3,31.7H321M316.3,34.6H321" stroke="#6e7276" stroke-width="1.4"/>
<rect x="374.2" y="21.9" width="26.5" height="22.5" rx="3" fill="#e2e3e4"/>
<path d="M377.8,27.3H381.8M385.1,27.3H397.1M377.8,30.3H381.8M385.1,30.3H397.1M377.8,33.3H381.8M385.1,33.3H397.1M377.8,36.3H381.8M385.1,36.3H397.1M377.8,39.3H381.8M385.1,39.3H397.1" stroke="#6e7276" stroke-width="1.4"/>
<rect x="2875.8" y="24.3" width="10.4" height="10.4" rx="2.8" fill="#c9cacb"/><rect x="2889.4" y="24.3" width="10.6" height="10.4" rx="2.8" fill="#c9cacb"/><rect x="2875.8" y="37.4" width="10.4" height="10.6" rx="2.8" fill="#c9cacb"/><path d="M2889.6,42.8H2900M2894.8,37.9V47.7" stroke="#c9cacb" stroke-width="2.4"/>
<path d="M2912,37.6 L2917.65,43.7 L2923.3,37.6" fill="none" stroke="#9ea4aa" stroke-width="1.3"/>
<path d="M2969.2,26.5V49.8M2977.6,23.2V46.3M2985.9,26.5V49.8M2964.9,31H2969.2M2969.2,45.2H2973.5M2973.1,27.6H2977.6M2977.6,42.8H2981.8M2981.5,31H2985.9M2985.9,45.2H2990" stroke="#ffffff" stroke-width="2.3" fill="none"/>
<path d="M2999,37.2 L3004.5,43.800000000000004 L3010,37.2" fill="none" stroke="#9ea4aa" stroke-width="1.3"/>
<text x="3038.8" y="42.1" font-family="Liberation Sans, sans-serif" font-size="18.9" fill="#dfe1e3" stroke="#dfe1e3" stroke-width="0.4" textLength="21.2" lengthAdjust="spacingAndGlyphs">1D</text>
<path d="M3069.4,37.2 L3074.9,43.800000000000004 L3080.4,37.2" fill="none" stroke="#9ea4aa" stroke-width="1.3"/>
<text x="3108.2" y="42.1" font-family="Liberation Sans, sans-serif" font-size="18.9" fill="#dfe1e3" stroke="#dfe1e3" stroke-width="0.4" textLength="48.3" lengthAdjust="spacingAndGlyphs">Views</text>
<path d="M3165.3,37.2 L3170.8,43.800000000000004 L3176.3,37.2" fill="none" stroke="#9ea4aa" stroke-width="1.3"/>
<text x="3204.5" y="42.1" font-family="Liberation Sans, sans-serif" font-size="18.9" fill="#dfe1e3" stroke="#dfe1e3" stroke-width="0.4" textLength="59.8" lengthAdjust="spacingAndGlyphs">Studies</text>
<path d="M3272.8,37.2 L3278.3500000000004,43.800000000000004 L3283.9,37.2" fill="none" stroke="#9ea4aa" stroke-width="1.3"/>
<text x="3312.3" y="42.1" font-family="Liberation Sans, sans-serif" font-size="18.9" fill="#dfe1e3" stroke="#dfe1e3" stroke-width="0.4" textLength="48.7" lengthAdjust="spacingAndGlyphs">Signal</text>
<path d="M3370,37.2 L3375.5,43.800000000000004 L3381,37.2" fill="none" stroke="#9ea4aa" stroke-width="1.3"/>
<path d="M3439.75,23.73 L3443.05,23.73 L3443.48,26.63 L3444.54,26.72 L3445.35,27.40 L3447.71,25.66 L3450.04,27.99 L3448.30,30.35 L3448.98,31.16 L3449.07,32.22 L3451.97,32.65 L3451.97,35.95 L3449.07,36.38 L3448.98,37.44 L3448.30,38.25 L3450.04,40.61 L3447.71,42.94 L3445.35,41.20 L3444.54,41.88 L3443.48,41.97 L3443.05,44.87 L3439.75,44.87 L3439.32,41.97 L3438.26,41.88 L3437.45,41.20 L3435.09,42.94 L3432.76,40.61 L3434.50,38.25 L3433.82,37.44 L3433.73,36.38 L3430.83,35.95 L3430.83,32.65 L3433.73,32.22 L3433.82,31.16 L3434.50,30.35 L3432.76,27.99 L3435.09,25.66 L3437.45,27.40 L3438.26,26.72 L3439.32,26.63Z M3445.30,34.30 A3.9,3.9 0 1,0 3437.50,34.30 A3.9,3.9 0 1,0 3445.30,34.30Z" fill="#e4e6e8" fill-rule="evenodd"/>
<path d="M3460.3,37.2 L3465.8,43.800000000000004 L3471.3,37.2" fill="none" stroke="#9ea4aa" stroke-width="1.3"/>
<text x="39.5" y="126" font-family="Liberation Sans, sans-serif" font-size="43.6" font-weight="bold" fill="#ffffff" stroke="#ffffff" stroke-width="1.3" textLength="284" lengthAdjust="spacingAndGlyphs">TechnipFMC PLC</text>
<text x="46.5" y="155.4" font-family="Liberation Sans, sans-serif" font-size="19.8" fill="#7fc241" stroke="#7fc241" stroke-width="0.5" textLength="53" lengthAdjust="spacingAndGlyphs">26.47</text>
<path d="M112.5,145 L119.3,152.6 H115.2 V156.4 H109.8 V152.6 H105.7 Z" fill="#7fc241"/>
<text x="124.2" y="155.4" font-family="Liberation Sans, sans-serif" font-size="19.8" fill="#8b939c" stroke="#8b939c" stroke-width="0.3" textLength="113.5" lengthAdjust="spacingAndGlyphs">0.61(2.36%)</text>
<path d="M36,162.6 L48.2,169.20000000000002 L36,175.6 Z" fill="#1f5fd0"/>
<text x="57.3" y="176.4" font-family="Liberation Sans, sans-serif" font-size="17.2" fill="#8b939c" stroke="#8b939c" stroke-width="0.2" textLength="39.5" lengthAdjust="spacingAndGlyphs">Plots</text>
<path d="M36,1398.4 L48.2,1405.0 L36,1411.4 Z" fill="#1f5fd0"/>
<text x="57.3" y="1412.2" font-family="Liberation Sans, sans-serif" font-size="17.2" fill="#8b939c" stroke="#8b939c" stroke-width="0.2" textLength="39.5" lengthAdjust="spacingAndGlyphs">Plots</text>
<rect x="1647.6" y="1336" width="118" height="28.6" rx="3.5" fill="#17222c"/>
<rect x="1647.6" y="1334.6" width="118" height="28.6" rx="3.5" fill="#222f3c"/>
<rect x="1685.6" y="1337" width="1.2" height="22.5" fill="#1a2530"/>
<rect x="1659.3" y="1346.8" width="15.6" height="3.6" fill="#b9c0c8"/>
<path d="M1699,1348.6H1714M1706.4,1341V1356" stroke="#b9c0c8" stroke-width="3.5"/>
<path d="M1739,1348V1343.6H1743.5M1747.8,1343.6H1752.4V1348M1752.4,1349V1353.2H1747.8M1743.5,1353.2H1739V1349" stroke="#b9c0c8" stroke-width="3.2" fill="none"/>
<circle cx="3469.9" cy="1685.2" r="2.4" fill="#9ca2a8"/>
<circle cx="3469.9" cy="1692.1" r="2.4" fill="#9ca2a8"/>
<circle cx="3469.9" cy="1699.0" r="2.4" fill="#9ca2a8"/>
<rect x="0" y="1709.2" width="3508" height="70" fill="#151f28"/>
<rect x="0" y="1711.6" width="3508" height="1.8" fill="#05080b"/>
<rect x="32" y="1733.2" width="40" height="20.9" fill="#c3c5c7"/>
<path d="M36.1,1738.0H39.8M64.2,1738.0H67.9M41.65,1738.00h1.70M45.55,1738.00h1.70M49.25,1738.00h1.70M52.95,1738.00h1.70M56.65,1738.00h1.70M60.45,1738.00h1.70M36.1,1745.7H39.8M64.2,1745.7H67.9M41.65,1745.70h1.70M45.55,1745.70h1.70M49.25,1745.70h1.70M52.95,1745.70h1.70M56.65,1745.70h1.70M60.45,1745.70h1.70M36.25,1741.90h1.70M39.95,1741.90h1.70M43.75,1741.90h1.70M47.45,1741.90h1.70M51.15,1741.90h1.70M54.85,1741.90h1.70M58.55,1741.90h1.70M62.25,1741.90h1.70M66.05,1741.90h1.70M36.25,1749.40h1.70M39.95,1749.40h1.70M62.25,1749.40h1.70M66.05,1749.40h1.70M44.1,1749.4H59.9" stroke="#18222c" stroke-width="1.6" fill="none"/>
<text x="3014.2" y="1748.8" font-family="Liberation Sans, sans-serif" font-size="17.9" fill="#d2d4d7" stroke="#d2d4d7" stroke-width="0.35" textLength="20.9" lengthAdjust="spacingAndGlyphs">1D</text>
<text x="3066.1" y="1748.8" font-family="Liberation Sans, sans-serif" font-size="17.9" fill="#d2d4d7" stroke="#d2d4d7" stroke-width="0.35" textLength="20.3" lengthAdjust="spacingAndGlyphs">5D</text>
<text x="3117.9" y="1748.8" font-family="Liberation Sans, sans-serif" font-size="17.9" fill="#d2d4d7" stroke="#d2d4d7" stroke-width="0.35" textLength="24.5" lengthAdjust="spacingAndGlyphs">1M</text>
<text x="3173.1" y="1748.8" font-family="Liberation Sans, sans-serif" font-size="17.9" fill="#d2d4d7" stroke="#d2d4d7" stroke-width="0.35" textLength="25.1" lengthAdjust="spacingAndGlyphs">3M</text>
<text x="3229.1" y="1748.8" font-family="Liberation Sans, sans-serif" font-size="17.9" fill="#d2d4d7" stroke="#d2d4d7" stroke-width="0.35" textLength="24.9" lengthAdjust="spacingAndGlyphs">6M</text>
<text x="3285.0" y="1748.8" font-family="Liberation Sans, sans-serif" font-size="17.9" fill="#d2d4d7" stroke="#d2d4d7" stroke-width="0.35" textLength="32.5" lengthAdjust="spacingAndGlyphs">YTD</text>
<text x="3349.0" y="1748.8" font-family="Liberation Sans, sans-serif" font-size="17.9" fill="#d2d4d7" stroke="#d2d4d7" stroke-width="0.35" textLength="19.4" lengthAdjust="spacingAndGlyphs">1Y</text>
<text x="3399.7" y="1748.8" font-family="Liberation Sans, sans-serif" font-size="17.9" fill="#d2d4d7" stroke="#d2d4d7" stroke-width="0.35" textLength="19.9" lengthAdjust="spacingAndGlyphs">5Y</text>
<text x="3450.2" y="1748.8" font-family="Liberation Sans, sans-serif" font-size="17.9" fill="#d2d4d7" stroke="#d2d4d7" stroke-width="0.35" textLength="20.1" lengthAdjust="spacingAndGlyphs">All</text>
</svg>
</body></html>
